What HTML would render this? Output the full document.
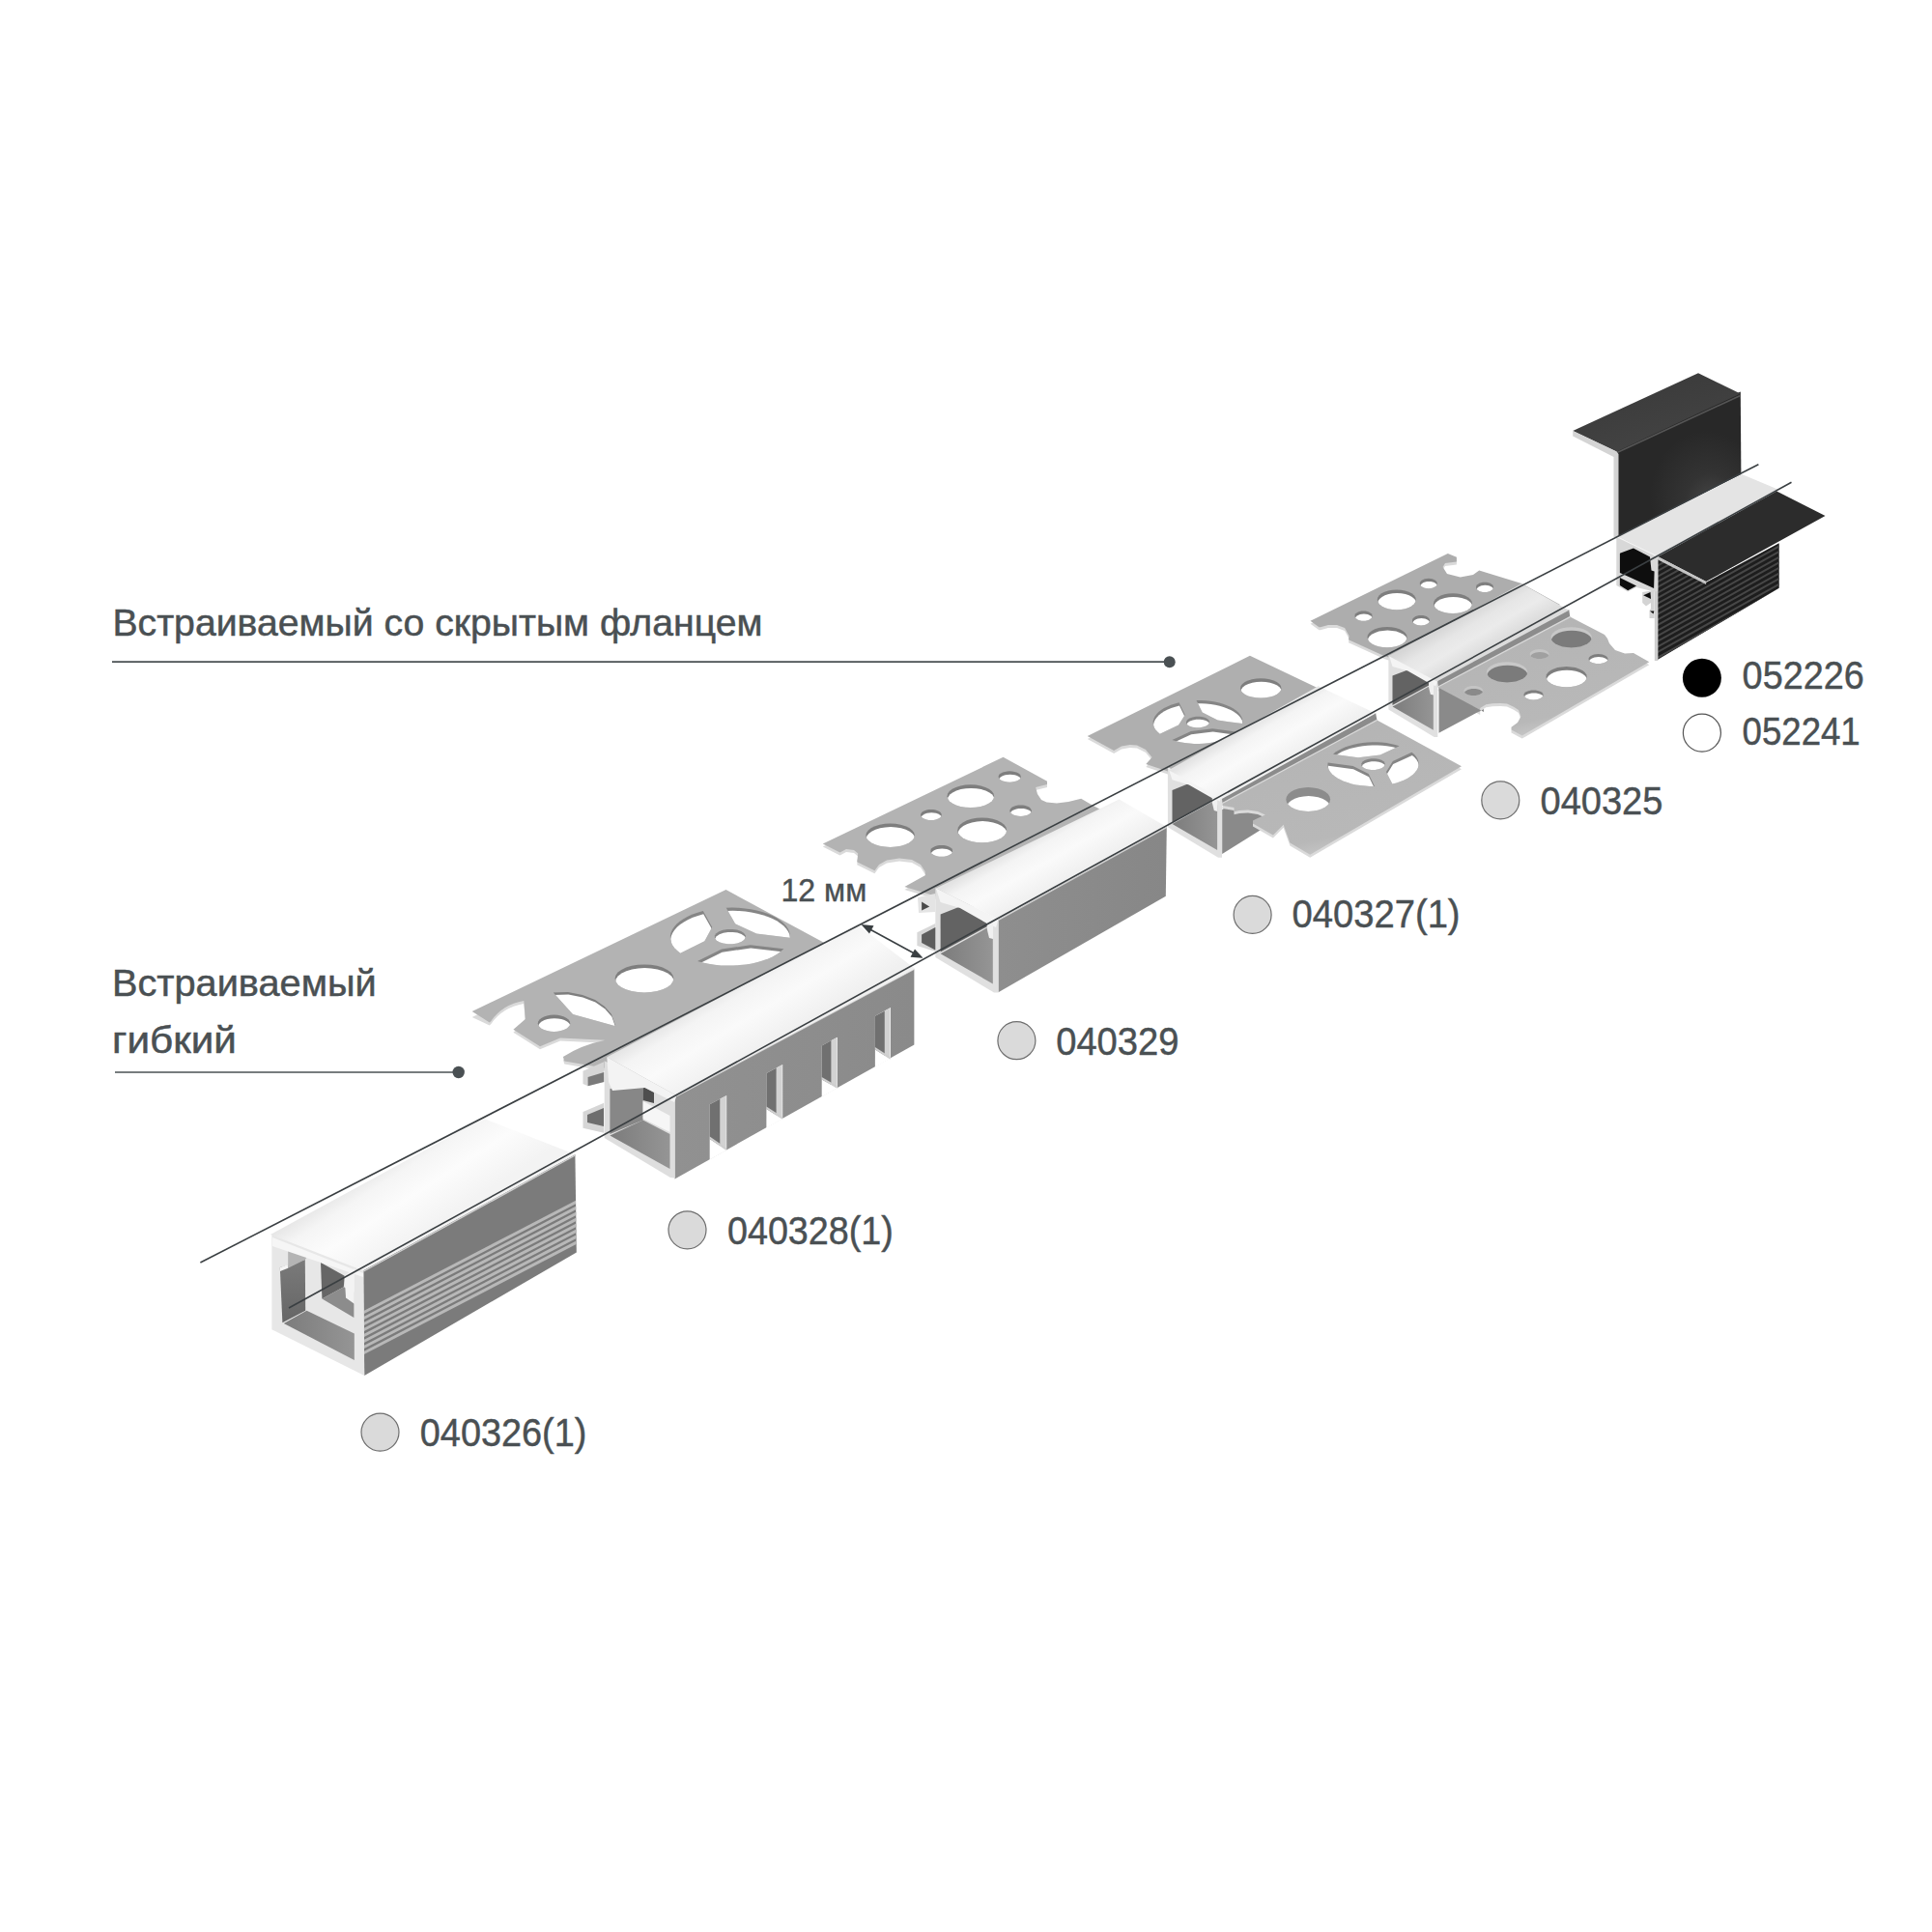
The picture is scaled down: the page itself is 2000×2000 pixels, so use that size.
<!DOCTYPE html>
<html><head><meta charset="utf-8"><style>
html,body{margin:0;padding:0;background:#fff;width:2000px;height:2000px;overflow:hidden}
svg{display:block}
text{font-family:"Liberation Sans",sans-serif;fill:#4a5053}
</style></head><body>
<svg width="2000" height="2000" viewBox="0 0 2000 2000">
<defs>
<radialGradient id="gF" cx="0.72" cy="0.72" r="0.45" fx="0.78" fy="0.8">
<stop offset="0" stop-color="#4a4a4a"/><stop offset="0.45" stop-color="#333333"/><stop offset="1" stop-color="#282828"/></radialGradient>
<linearGradient id="gFt" x1="0" y1="0" x2="0.6" y2="1">
<stop offset="0" stop-color="#383838"/><stop offset="1" stop-color="#444444"/></linearGradient>
<linearGradient id="gA" x1="0" y1="0.764" x2="0.305" y2="1.0">
<stop offset="0" stop-color="#e6e6e6"/><stop offset="0.22" stop-color="#f5f5f5"/><stop offset="0.55" stop-color="#fcfcfc"/><stop offset="1" stop-color="#f3f3f3"/></linearGradient>
<linearGradient id="gD" x1="0" y1="0.77" x2="0.25" y2="1.0">
<stop offset="0" stop-color="#e3e3e3"/><stop offset="0.22" stop-color="#f4f4f4"/><stop offset="0.55" stop-color="#fafafa"/><stop offset="1" stop-color="#f0f0f0"/></linearGradient>
<linearGradient id="gIn" x1="0" y1="0" x2="1" y2="0">
<stop offset="0" stop-color="#7c7c7c"/><stop offset="1" stop-color="#959595"/></linearGradient>
<linearGradient id="gSide" x1="0" y1="0" x2="1" y2="0">
<stop offset="0" stop-color="#8e8e8e"/><stop offset="1" stop-color="#878787"/></linearGradient>
<linearGradient id="gSideB" x1="0" y1="0" x2="1" y2="0">
<stop offset="0" stop-color="#919191"/><stop offset="1" stop-color="#8a8a8a"/></linearGradient>
<linearGradient id="gAl" x1="0" y1="0" x2="0" y2="1"><stop offset="0" stop-color="#7a7a7a"/><stop offset="1" stop-color="#666"/></linearGradient>
<linearGradient id="gDE" x1="0" y1="0.77" x2="0.25" y2="1.0"><stop offset="0" stop-color="#d6d6d6"/><stop offset="0.3" stop-color="#e6e6e6"/><stop offset="0.6" stop-color="#ebebeb"/><stop offset="1" stop-color="#dcdcdc"/></linearGradient>
<linearGradient id="gFP" x1="0.3" y1="0" x2="0.7" y2="1"><stop offset="0" stop-color="#b4b4b4"/><stop offset="0.8" stop-color="#b8b8b8"/><stop offset="0.93" stop-color="#c8c8c8"/><stop offset="1" stop-color="#dadada"/></linearGradient>
<clipPath id="h1"><polygon points="1714.9,578.3 1766.1,603.0 1841.7,562.3 1841.7,608.8 1714.9,683.4"/></clipPath><clipPath id="h2"><polygon points="1465.8,620.8 1465.3,623.1 1463.8,625.3 1461.4,627.3 1458.3,628.9 1454.5,630.2 1450.3,630.9 1445.8,631.2 1441.3,630.9 1437.1,630.2 1433.3,628.9 1430.2,627.3 1427.8,625.3 1426.3,623.1 1425.8,620.8 1426.3,618.5 1427.8,616.3 1430.2,614.3 1433.3,612.7 1437.1,611.4 1441.3,610.7 1445.8,610.4 1450.3,610.7 1454.5,611.4 1458.3,612.7 1461.4,614.3 1463.8,616.3 1465.3,618.5"/></clipPath><clipPath id="h3"><polygon points="1524.0,624.7 1523.5,627.0 1522.0,629.2 1519.6,631.2 1516.5,632.8 1512.7,634.1 1508.5,634.8 1504.0,635.1 1499.5,634.8 1495.3,634.1 1491.5,632.8 1488.4,631.2 1486.0,629.2 1484.5,627.0 1484.0,624.7 1484.5,622.4 1486.0,620.2 1488.4,618.2 1491.5,616.6 1495.3,615.3 1499.5,614.6 1504.0,614.3 1508.5,614.6 1512.7,615.3 1516.5,616.6 1519.6,618.2 1522.0,620.2 1523.5,622.4"/></clipPath><clipPath id="h4"><polygon points="1456.5,659.6 1456.0,662.0 1454.5,664.2 1452.0,666.2 1448.8,667.9 1444.9,669.2 1440.6,669.9 1436.0,670.2 1431.4,669.9 1427.1,669.2 1423.2,667.9 1420.0,666.2 1417.5,664.2 1416.0,662.0 1415.5,659.6 1416.0,657.2 1417.5,655.0 1420.0,653.0 1423.2,651.3 1427.1,650.0 1431.4,649.3 1436.0,649.0 1440.6,649.3 1444.9,650.0 1448.8,651.3 1452.0,653.0 1454.5,655.0 1456.0,657.2"/></clipPath><clipPath id="h5"><polygon points="1420.5,637.6 1420.3,638.8 1419.6,639.9 1418.5,640.8 1417.1,641.7 1415.4,642.3 1413.5,642.7 1411.5,642.8 1409.5,642.7 1407.6,642.3 1405.9,641.7 1404.5,640.8 1403.4,639.9 1402.7,638.8 1402.5,637.6 1402.7,636.4 1403.4,635.3 1404.5,634.4 1405.9,633.5 1407.6,632.9 1409.5,632.5 1411.5,632.4 1413.5,632.5 1415.4,632.9 1417.1,633.5 1418.5,634.4 1419.6,635.3 1420.3,636.4"/></clipPath><clipPath id="h6"><polygon points="1487.8,604.0 1487.6,605.2 1486.9,606.3 1485.8,607.2 1484.4,608.1 1482.7,608.7 1480.8,609.1 1478.8,609.2 1476.8,609.1 1474.9,608.7 1473.2,608.1 1471.8,607.2 1470.7,606.3 1470.0,605.2 1469.8,604.0 1470.0,602.8 1470.7,601.7 1471.8,600.8 1473.2,599.9 1474.9,599.3 1476.8,598.9 1478.8,598.8 1480.8,598.9 1482.7,599.3 1484.4,599.9 1485.8,600.8 1486.9,601.7 1487.6,602.8"/></clipPath><clipPath id="h7"><polygon points="1546.0,607.9 1545.8,609.1 1545.1,610.2 1544.0,611.1 1542.6,612.0 1540.9,612.6 1539.0,613.0 1537.0,613.1 1535.0,613.0 1533.1,612.6 1531.4,612.0 1530.0,611.1 1528.9,610.2 1528.2,609.1 1528.0,607.9 1528.2,606.7 1528.9,605.6 1530.0,604.7 1531.4,603.8 1533.1,603.2 1535.0,602.8 1537.0,602.7 1539.0,602.8 1540.9,603.2 1542.6,603.8 1544.0,604.7 1545.1,605.6 1545.8,606.7"/></clipPath><clipPath id="h8"><polygon points="1480.0,642.2 1479.8,643.4 1479.1,644.5 1478.0,645.4 1476.6,646.3 1474.9,646.9 1473.0,647.3 1471.0,647.4 1469.0,647.3 1467.1,646.9 1465.4,646.3 1464.0,645.4 1462.9,644.5 1462.2,643.4 1462.0,642.2 1462.2,641.0 1462.9,639.9 1464.0,639.0 1465.4,638.1 1467.1,637.5 1469.0,637.1 1471.0,637.0 1473.0,637.1 1474.9,637.5 1476.6,638.1 1478.0,639.0 1479.1,639.9 1479.8,641.0"/></clipPath><clipPath id="h9"><polygon points="1647.7,659.8 1647.2,662.2 1645.6,664.4 1643.1,666.4 1639.8,668.1 1635.8,669.4 1631.3,670.1 1626.6,670.4 1621.9,670.1 1617.4,669.4 1613.4,668.1 1610.1,666.4 1607.6,664.4 1606.0,662.2 1605.5,659.8 1606.0,657.4 1607.6,655.2 1610.1,653.2 1613.4,651.5 1617.4,650.2 1621.9,649.5 1626.6,649.2 1631.3,649.5 1635.8,650.2 1639.8,651.5 1643.1,653.2 1645.6,655.2 1647.2,657.4"/></clipPath><clipPath id="h10"><polygon points="1581.2,695.8 1580.7,698.2 1579.1,700.4 1576.6,702.4 1573.3,704.1 1569.3,705.4 1564.8,706.1 1560.1,706.4 1555.4,706.1 1550.9,705.4 1546.9,704.1 1543.6,702.4 1541.1,700.4 1539.5,698.2 1539.0,695.8 1539.5,693.4 1541.1,691.2 1543.6,689.2 1546.9,687.5 1550.9,686.2 1555.4,685.5 1560.1,685.2 1564.8,685.5 1569.3,686.2 1573.3,687.5 1576.6,689.2 1579.1,691.2 1580.7,693.4"/></clipPath><clipPath id="h11"><polygon points="1642.7,700.7 1642.2,703.1 1640.6,705.3 1638.1,707.3 1634.8,709.0 1630.8,710.3 1626.3,711.0 1621.6,711.3 1616.9,711.0 1612.4,710.3 1608.4,709.0 1605.1,707.3 1602.6,705.3 1601.0,703.1 1600.5,700.7 1601.0,698.3 1602.6,696.1 1605.1,694.1 1608.4,692.4 1612.4,691.1 1616.9,690.4 1621.6,690.1 1626.3,690.4 1630.8,691.1 1634.8,692.4 1638.1,694.1 1640.6,696.1 1642.2,698.3"/></clipPath><clipPath id="h12"><polygon points="1535.3,715.0 1535.0,716.1 1534.3,717.2 1533.1,718.1 1531.5,718.9 1529.6,719.5 1527.5,719.9 1525.3,720.0 1523.1,719.9 1521.0,719.5 1519.1,718.9 1517.5,718.1 1516.3,717.2 1515.6,716.1 1515.3,715.0 1515.6,713.9 1516.3,712.8 1517.5,711.9 1519.1,711.1 1521.0,710.5 1523.1,710.1 1525.3,710.0 1527.5,710.1 1529.6,710.5 1531.5,711.1 1533.1,711.9 1534.3,712.8 1535.0,713.9"/></clipPath><clipPath id="h13"><polygon points="1603.7,677.1 1603.4,678.2 1602.7,679.3 1601.5,680.2 1599.9,681.0 1598.0,681.6 1595.9,682.0 1593.7,682.1 1591.5,682.0 1589.4,681.6 1587.5,681.0 1585.9,680.2 1584.7,679.3 1584.0,678.2 1583.7,677.1 1584.0,676.0 1584.7,674.9 1585.9,674.0 1587.5,673.2 1589.4,672.6 1591.5,672.2 1593.7,672.1 1595.9,672.2 1598.0,672.6 1599.9,673.2 1601.5,674.0 1602.7,674.9 1603.4,676.0"/></clipPath><clipPath id="h14"><polygon points="1664.5,682.1 1664.2,683.2 1663.5,684.3 1662.3,685.2 1660.7,686.0 1658.8,686.6 1656.7,687.0 1654.5,687.1 1652.3,687.0 1650.2,686.6 1648.3,686.0 1646.7,685.2 1645.5,684.3 1644.8,683.2 1644.5,682.1 1644.8,681.0 1645.5,679.9 1646.7,679.0 1648.3,678.2 1650.2,677.6 1652.3,677.2 1654.5,677.1 1656.7,677.2 1658.8,677.6 1660.7,678.2 1662.3,679.0 1663.5,679.9 1664.2,681.0"/></clipPath><clipPath id="h15"><polygon points="1597.5,719.4 1597.2,720.5 1596.5,721.6 1595.3,722.5 1593.7,723.3 1591.8,723.9 1589.7,724.3 1587.5,724.4 1585.3,724.3 1583.2,723.9 1581.3,723.3 1579.7,722.5 1578.5,721.6 1577.8,720.5 1577.5,719.4 1577.8,718.3 1578.5,717.2 1579.7,716.3 1581.3,715.5 1583.2,714.9 1585.3,714.5 1587.5,714.4 1589.7,714.5 1591.8,714.9 1593.7,715.5 1595.3,716.3 1596.5,717.2 1597.2,718.3"/></clipPath><clipPath id="h16"><polygon points="1326.4,712.4 1325.9,714.7 1324.3,716.8 1321.8,718.8 1318.4,720.4 1314.4,721.6 1309.9,722.3 1305.2,722.6 1300.5,722.3 1296.0,721.6 1292.0,720.4 1288.6,718.8 1286.1,716.8 1284.5,714.7 1284.0,712.4 1284.5,710.1 1286.1,708.0 1288.6,706.0 1292.0,704.4 1296.0,703.2 1300.5,702.5 1305.2,702.2 1309.9,702.5 1314.4,703.2 1318.4,704.4 1321.8,706.0 1324.3,708.0 1325.9,710.1"/></clipPath><clipPath id="h17"><polygon points="1238.5,725.1 1243.4,725.1 1248.3,725.3 1253.0,725.8 1257.7,726.6 1262.1,727.6 1266.2,728.8 1270.1,730.2 1273.7,731.8 1276.8,733.6 1279.6,735.5 1281.9,737.6 1283.8,739.7 1285.1,742.0 1286.0,744.3 1286.3,746.7 1286.1,749.1 1260.5,745.6 1244.7,737.6"/></clipPath><clipPath id="h18"><polygon points="1280.8,757.7 1278.3,759.8 1275.3,761.7 1272.0,763.4 1268.2,765.0 1264.2,766.4 1259.9,767.6 1255.4,768.5 1250.7,769.2 1245.9,769.7 1241.0,769.9 1236.1,769.9 1231.3,769.6 1226.5,769.1 1221.9,768.3 1217.5,767.3 1213.4,766.1 1232.8,757.0 1255.2,754.3"/></clipPath><clipPath id="h19"><polygon points="1200.7,759.7 1198.3,757.6 1196.4,755.5 1195.0,753.2 1194.1,750.9 1193.7,748.5 1193.8,746.2 1194.5,743.8 1195.6,741.5 1197.3,739.2 1199.4,737.1 1202.0,735.0 1205.0,733.1 1208.4,731.4 1212.1,729.8 1216.2,728.5 1220.5,727.3 1226.7,739.9 1220.1,750.6"/></clipPath><clipPath id="h20"><polygon points="1248.5,743.3 1250.7,744.7 1251.9,746.4 1251.9,748.3 1250.8,750.0 1248.6,751.5 1245.5,752.6 1242.0,753.2 1238.2,753.3 1234.6,752.8 1231.5,751.7 1229.3,750.3 1228.1,748.6 1228.1,746.7 1229.2,745.0 1231.4,743.5 1234.5,742.4 1238.0,741.8 1241.8,741.7 1245.4,742.2"/></clipPath><clipPath id="h21"><polygon points="1377.1,827.5 1376.5,830.3 1374.8,832.9 1372.1,835.2 1368.5,837.2 1364.1,838.7 1359.3,839.6 1354.2,839.9 1349.1,839.6 1344.3,838.7 1339.9,837.2 1336.3,835.2 1333.6,832.9 1331.9,830.3 1331.3,827.5 1331.9,824.7 1333.6,822.1 1336.3,819.8 1339.9,817.8 1344.3,816.3 1349.1,815.4 1354.2,815.1 1359.3,815.4 1364.1,816.3 1368.5,817.8 1372.1,819.8 1374.8,822.1 1376.5,824.7"/></clipPath><clipPath id="h22"><polygon points="1423.0,813.9 1418.0,813.9 1413.1,813.6 1408.2,813.1 1403.5,812.4 1399.1,811.4 1394.8,810.1 1390.9,808.7 1387.3,807.1 1384.1,805.3 1381.3,803.3 1378.9,801.2 1377.0,799.0 1375.6,796.7 1374.8,794.3 1374.4,791.9 1374.6,789.5 1400.6,793.0 1416.7,801.1"/></clipPath><clipPath id="h23"><polygon points="1380.0,780.7 1382.6,778.6 1385.6,776.7 1389.0,774.9 1392.8,773.3 1396.9,771.9 1401.3,770.7 1405.9,769.7 1410.6,769.0 1415.5,768.5 1420.5,768.3 1425.5,768.3 1430.4,768.6 1435.2,769.1 1439.9,769.9 1444.4,770.9 1448.6,772.2 1428.8,781.4 1406.0,784.2"/></clipPath><clipPath id="h24"><polygon points="1461.5,778.7 1463.9,780.8 1465.8,783.0 1467.2,785.3 1468.2,787.7 1468.6,790.1 1468.4,792.5 1467.8,794.9 1466.6,797.2 1464.9,799.5 1462.8,801.7 1460.1,803.8 1457.1,805.7 1453.6,807.5 1449.8,809.1 1445.7,810.4 1441.3,811.6 1435.0,798.9 1441.8,787.9"/></clipPath><clipPath id="h25"><polygon points="1430.1,786.8 1432.4,788.3 1433.6,790.0 1433.6,791.9 1432.4,793.7 1430.2,795.2 1427.1,796.3 1423.5,796.9 1419.7,797.0 1416.0,796.5 1412.9,795.4 1410.6,793.9 1409.4,792.2 1409.4,790.3 1410.6,788.5 1412.8,787.0 1415.9,785.9 1419.5,785.3 1423.3,785.2 1427.0,785.7"/></clipPath><clipPath id="h26"><polygon points="946.8,864.7 946.2,867.4 944.3,870.0 941.3,872.3 937.3,874.2 932.5,875.7 927.2,876.6 921.6,876.9 916.0,876.6 910.7,875.7 905.9,874.2 901.9,872.3 898.9,870.0 897.0,867.4 896.4,864.7 897.0,862.0 898.9,859.4 901.9,857.1 905.9,855.2 910.7,853.7 916.0,852.8 921.6,852.5 927.2,852.8 932.5,853.7 937.3,855.2 941.3,857.1 944.3,859.4 946.2,862.0"/></clipPath><clipPath id="h27"><polygon points="1029.1,824.2 1028.5,826.8 1026.7,829.4 1023.8,831.6 1020.0,833.5 1015.3,834.9 1010.2,835.8 1004.8,836.1 999.4,835.8 994.3,834.9 989.6,833.5 985.8,831.6 982.9,829.4 981.1,826.8 980.5,824.2 981.1,821.6 982.9,819.0 985.8,816.8 989.6,814.9 994.3,813.5 999.4,812.6 1004.8,812.3 1010.2,812.6 1015.3,813.5 1020.0,814.9 1023.8,816.8 1026.7,819.0 1028.5,821.6"/></clipPath><clipPath id="h28"><polygon points="1042.1,859.4 1041.5,862.3 1039.6,865.0 1036.6,867.4 1032.5,869.5 1027.7,871.0 1022.4,872.0 1016.7,872.3 1011.0,872.0 1005.7,871.0 1000.9,869.5 996.8,867.4 993.8,865.0 991.9,862.3 991.3,859.4 991.9,856.5 993.8,853.8 996.8,851.4 1000.9,849.3 1005.7,847.8 1011.0,846.8 1016.7,846.5 1022.4,846.8 1027.7,847.8 1032.5,849.3 1036.6,851.4 1039.6,853.8 1041.5,856.5"/></clipPath><clipPath id="h29"><polygon points="974.7,843.5 974.4,844.7 973.6,845.9 972.3,846.9 970.6,847.8 968.6,848.5 966.3,848.9 963.9,849.0 961.5,848.9 959.2,848.5 957.2,847.8 955.5,846.9 954.2,845.9 953.4,844.7 953.1,843.5 953.4,842.3 954.2,841.1 955.5,840.1 957.2,839.2 959.2,838.5 961.5,838.1 963.9,838.0 966.3,838.1 968.6,838.5 970.6,839.2 972.3,840.1 973.6,841.1 974.4,842.3"/></clipPath><clipPath id="h30"><polygon points="986.1,880.9 985.8,882.2 985.0,883.5 983.6,884.6 981.8,885.5 979.6,886.2 977.2,886.7 974.7,886.8 972.2,886.7 969.8,886.2 967.6,885.5 965.8,884.6 964.4,883.5 963.6,882.2 963.3,880.9 963.6,879.6 964.4,878.3 965.8,877.2 967.6,876.3 969.8,875.6 972.2,875.1 974.7,875.0 977.2,875.1 979.6,875.6 981.8,876.3 983.6,877.2 985.0,878.3 985.8,879.6"/></clipPath><clipPath id="h31"><polygon points="1056.8,804.0 1056.5,805.3 1055.7,806.5 1054.3,807.6 1052.4,808.5 1050.2,809.1 1047.8,809.6 1045.2,809.7 1042.6,809.6 1040.2,809.1 1038.0,808.5 1036.1,807.6 1034.7,806.5 1033.9,805.3 1033.6,804.0 1033.9,802.7 1034.7,801.5 1036.1,800.4 1038.0,799.5 1040.2,798.9 1042.6,798.4 1045.2,798.3 1047.8,798.4 1050.2,798.9 1052.4,799.5 1054.3,800.4 1055.7,801.5 1056.5,802.7"/></clipPath><clipPath id="h32"><polygon points="1067.8,839.2 1067.5,840.5 1066.7,841.7 1065.4,842.8 1063.6,843.7 1061.5,844.3 1059.1,844.8 1056.6,844.9 1054.1,844.8 1051.7,844.3 1049.6,843.7 1047.8,842.8 1046.5,841.7 1045.7,840.5 1045.4,839.2 1045.7,837.9 1046.5,836.7 1047.8,835.6 1049.6,834.7 1051.7,834.1 1054.1,833.6 1056.6,833.5 1059.1,833.6 1061.5,834.1 1063.6,834.7 1065.4,835.6 1066.7,836.7 1067.5,837.9"/></clipPath><clipPath id="h33"><polygon points="590.2,1059.3 589.8,1061.2 588.5,1063.1 586.6,1064.7 583.9,1066.1 580.7,1067.1 577.2,1067.8 573.5,1068.0 569.8,1067.8 566.3,1067.1 563.1,1066.1 560.4,1064.7 558.5,1063.1 557.2,1061.2 556.8,1059.3 557.2,1057.4 558.5,1055.5 560.4,1053.9 563.1,1052.5 566.3,1051.5 569.8,1050.8 573.5,1050.6 577.2,1050.8 580.7,1051.5 583.9,1052.5 586.6,1053.9 588.5,1055.5 589.8,1057.4"/></clipPath><clipPath id="h34"><polygon points="572.8,1027.4 588.0,1027.0 603.0,1030.0 616.0,1035.0 626.0,1042.0 633.0,1050.0 637.2,1062.2 593.0,1049.9"/></clipPath><clipPath id="h35"><polygon points="697.4,1012.9 696.6,1016.1 694.4,1019.2 690.8,1021.9 686.0,1024.2 680.2,1026.0 673.8,1027.0 667.0,1027.4 660.2,1027.0 653.8,1026.0 648.0,1024.2 643.2,1021.9 639.6,1019.2 637.4,1016.1 636.6,1012.9 637.4,1009.7 639.6,1006.6 643.2,1003.9 648.0,1001.6 653.8,999.8 660.2,998.8 667.0,998.4 673.8,998.8 680.2,999.8 686.0,1001.6 690.8,1003.9 694.4,1006.6 696.6,1009.7"/></clipPath><clipPath id="h36"><polygon points="751.7,939.7 758.2,939.6 764.7,939.8 771.2,940.4 777.4,941.3 783.4,942.5 789.1,944.0 794.4,945.8 799.3,947.8 803.7,950.1 807.6,952.7 810.9,955.4 813.6,958.2 815.6,961.2 817.0,964.3 817.7,967.5 817.7,970.7 783.1,966.6 761.1,956.3"/></clipPath><clipPath id="h37"><polygon points="811.4,982.3 808.2,985.1 804.4,987.8 800.1,990.2 795.3,992.4 790.0,994.3 784.4,996.0 778.4,997.4 772.2,998.4 765.8,999.1 759.3,999.6 752.7,999.6 746.2,999.4 739.8,998.8 733.6,997.8 727.6,996.6 722.0,995.1 747.1,982.5 776.8,978.3"/></clipPath><clipPath id="h38"><polygon points="704.3,986.8 701.0,984.1 698.2,981.2 696.1,978.2 694.7,975.2 694.0,972.0 693.9,968.8 694.5,965.7 695.9,962.6 697.9,959.5 700.5,956.6 703.7,953.8 707.6,951.2 711.9,948.8 716.8,946.6 722.1,944.7 727.8,943.1 737.2,959.7 729.4,974.2"/></clipPath><clipPath id="h39"><polygon points="767.1,963.9 770.1,965.9 771.7,968.2 771.7,970.6 770.2,973.0 767.3,975.0 763.2,976.5 758.4,977.3 753.4,977.3 748.6,976.6 744.5,975.3 741.5,973.3 739.9,971.0 739.9,968.6 741.4,966.2 744.3,964.2 748.4,962.7 753.2,961.9 758.2,961.9 763.0,962.6"/></clipPath><clipPath id="h40"><polygon points="375.8,1315.2 595.4,1194.9 596.8,1296.4 377.2,1423.9"/></clipPath>
</defs>
<rect width="2000" height="2000" fill="#ffffff"/>
<polygon points="1673.5,465.0 1801.8,405.5 1802.4,491.0 1673.5,556.0" fill="url(#gF)" />
<polygon points="1628.2,446.0 1758.0,386.2 1801.6,407.5 1673.5,467.5" fill="url(#gFt)" />
<line x1="1674.0" y1="468.5" x2="1801.6" y2="409.5" stroke="#555555" stroke-width="1.6" />
<polygon points="1628.2,446.0 1673.5,467.5 1675.5,470.0 1675.5,556.0 1670.5,556.0 1670.5,473.0 1628.2,451.5" fill="#d4d4d4" />
<polygon points="1675.0,556.0 1803.3,491.0 1840.9,506.7 1717.9,576.7" fill="#e4e4e4" />
<polygon points="1675.0,556.0 1717.9,576.7 1716.0,583.0 1677.0,566.0" fill="#f2f2f2" />
<polygon points="1714.9,578.3 1766.1,603.0 1841.7,562.3 1841.7,608.8 1714.9,683.4" fill="#1d1d1d" />
<g clip-path="url(#h1)"><line x1="1714" y1="581.0" x2="1842" y2="509.3" stroke="#474747" stroke-width="2"/><line x1="1714" y1="586.6" x2="1842" y2="514.9" stroke="#474747" stroke-width="2"/><line x1="1714" y1="592.2" x2="1842" y2="520.5" stroke="#474747" stroke-width="2"/><line x1="1714" y1="597.8" x2="1842" y2="526.1" stroke="#474747" stroke-width="2"/><line x1="1714" y1="603.4" x2="1842" y2="531.7" stroke="#474747" stroke-width="2"/><line x1="1714" y1="609.0" x2="1842" y2="537.3" stroke="#474747" stroke-width="2"/><line x1="1714" y1="614.6" x2="1842" y2="542.9" stroke="#474747" stroke-width="2"/><line x1="1714" y1="620.2" x2="1842" y2="548.5" stroke="#474747" stroke-width="2"/><line x1="1714" y1="625.8" x2="1842" y2="554.1" stroke="#474747" stroke-width="2"/><line x1="1714" y1="631.4" x2="1842" y2="559.7" stroke="#474747" stroke-width="2"/><line x1="1714" y1="637.0" x2="1842" y2="565.3" stroke="#474747" stroke-width="2"/><line x1="1714" y1="642.6" x2="1842" y2="570.9" stroke="#474747" stroke-width="2"/><line x1="1714" y1="648.2" x2="1842" y2="576.5" stroke="#474747" stroke-width="2"/><line x1="1714" y1="653.8" x2="1842" y2="582.1" stroke="#474747" stroke-width="2"/><line x1="1714" y1="659.4" x2="1842" y2="587.7" stroke="#474747" stroke-width="2"/><line x1="1714" y1="665.0" x2="1842" y2="593.3" stroke="#474747" stroke-width="2"/><line x1="1714" y1="670.6" x2="1842" y2="598.9" stroke="#474747" stroke-width="2"/><line x1="1714" y1="676.2" x2="1842" y2="604.5" stroke="#474747" stroke-width="2"/><line x1="1714" y1="681.8" x2="1842" y2="610.1" stroke="#474747" stroke-width="2"/><line x1="1714" y1="687.4" x2="1842" y2="615.7" stroke="#474747" stroke-width="2"/></g>
<polygon points="1712.8,578.0 1716.4,578.0 1716.4,684.0 1712.8,684.0" fill="#cfcfcf" />
<polygon points="1716.4,576.2 1839.2,508.4 1889.5,534.0 1766.1,602.1" fill="#2c2c2c" />
<polygon points="1716.4,576.2 1766.1,602.1 1766.1,605.0 1716.4,579.5" fill="#c4c4c4" />
<polygon points="1673.3,556.0 1716.2,577.0 1716.2,612.0 1712.6,612.5 1694.0,608.0 1685.0,612.5 1673.3,606.0" fill="#d8d8d8" />
<polygon points="1676.9,572.8 1690.9,567.6 1708.0,576.4 1709.5,590.4 1712.6,591.4 1712.1,609.0 1682.6,595.5 1676.9,593.0" fill="#0e0e0e" />
<polygon points="1676.9,598.1 1694.0,606.4 1685.2,611.2 1676.9,605.9" fill="#0e0e0e" />
<polygon points="1700.2,613.0 1712.6,611.0 1712.6,640.0 1707.5,640.0 1707.5,632.0 1709.0,630.0 1709.0,624.0 1704.0,627.6 1700.2,624.0" fill="#d4d4d4" />
<polygon points="1701.2,616.3 1708.5,613.1 1709.0,619.9" fill="#0e0e0e" />
<polygon points="1708.0,632.5 1712.4,632.5 1711.5,635.5" fill="#111" />
<polygon points="1356.5,645.8 1498.8,575.9 1507.9,579.8 1507.9,584.4 1496.0,586.0 1493.6,590.0 1498.0,597.0 1511.7,600.5 1525.0,598.0 1531.2,593.4 1575.2,607.0 1615.0,629.0 1500.0,703.0 1432.8,682.0 1396.0,665.2 1396.6,661.3 1392.0,653.0 1384.0,650.0 1375.0,650.0 1366.8,652.3 1365.5,652.3" fill="#dadada" />
<polygon points="1356.5,642.8 1498.8,572.9 1507.9,576.8 1507.9,581.4 1496.0,583.0 1493.6,587.0 1498.0,594.0 1511.7,597.5 1525.0,595.0 1531.2,590.4 1575.2,604.0 1615.0,626.0 1500.0,700.0 1432.8,679.0 1396.0,662.2 1396.6,658.3 1392.0,650.0 1384.0,647.0 1375.0,647.0 1366.8,649.3 1365.5,649.3" fill="#adadad" />
<polygon points="1465.8,620.8 1465.3,623.1 1463.8,625.3 1461.4,627.3 1458.3,628.9 1454.5,630.2 1450.3,630.9 1445.8,631.2 1441.3,630.9 1437.1,630.2 1433.3,628.9 1430.2,627.3 1427.8,625.3 1426.3,623.1 1425.8,620.8 1426.3,618.5 1427.8,616.3 1430.2,614.3 1433.3,612.7 1437.1,611.4 1441.3,610.7 1445.8,610.4 1450.3,610.7 1454.5,611.4 1458.3,612.7 1461.4,614.3 1463.8,616.3 1465.3,618.5" fill="#7e7e7e" />
<polygon points="1466.2,624.4 1465.7,626.7 1464.2,628.9 1461.8,630.9 1458.7,632.5 1454.9,633.8 1450.7,634.5 1446.2,634.8 1441.7,634.5 1437.5,633.8 1433.7,632.5 1430.6,630.9 1428.2,628.9 1426.7,626.7 1426.2,624.4 1426.7,622.1 1428.2,619.9 1430.6,617.9 1433.7,616.3 1437.5,615.0 1441.7,614.3 1446.2,614.0 1450.7,614.3 1454.9,615.0 1458.7,616.3 1461.8,617.9 1464.2,619.9 1465.7,622.1" fill="#ffffff" clip-path="url(#h2)"/>
<polygon points="1524.0,624.7 1523.5,627.0 1522.0,629.2 1519.6,631.2 1516.5,632.8 1512.7,634.1 1508.5,634.8 1504.0,635.1 1499.5,634.8 1495.3,634.1 1491.5,632.8 1488.4,631.2 1486.0,629.2 1484.5,627.0 1484.0,624.7 1484.5,622.4 1486.0,620.2 1488.4,618.2 1491.5,616.6 1495.3,615.3 1499.5,614.6 1504.0,614.3 1508.5,614.6 1512.7,615.3 1516.5,616.6 1519.6,618.2 1522.0,620.2 1523.5,622.4" fill="#7e7e7e" />
<polygon points="1524.4,628.3 1523.9,630.6 1522.4,632.8 1520.0,634.8 1516.9,636.4 1513.1,637.7 1508.9,638.4 1504.4,638.7 1499.9,638.4 1495.7,637.7 1491.9,636.4 1488.8,634.8 1486.4,632.8 1484.9,630.6 1484.4,628.3 1484.9,626.0 1486.4,623.8 1488.8,621.8 1491.9,620.2 1495.7,618.9 1499.9,618.2 1504.4,617.9 1508.9,618.2 1513.1,618.9 1516.9,620.2 1520.0,621.8 1522.4,623.8 1523.9,626.0" fill="#ffffff" clip-path="url(#h3)"/>
<polygon points="1456.5,659.6 1456.0,662.0 1454.5,664.2 1452.0,666.2 1448.8,667.9 1444.9,669.2 1440.6,669.9 1436.0,670.2 1431.4,669.9 1427.1,669.2 1423.2,667.9 1420.0,666.2 1417.5,664.2 1416.0,662.0 1415.5,659.6 1416.0,657.2 1417.5,655.0 1420.0,653.0 1423.2,651.3 1427.1,650.0 1431.4,649.3 1436.0,649.0 1440.6,649.3 1444.9,650.0 1448.8,651.3 1452.0,653.0 1454.5,655.0 1456.0,657.2" fill="#7e7e7e" />
<polygon points="1456.9,663.2 1456.4,665.6 1454.9,667.8 1452.4,669.8 1449.2,671.5 1445.3,672.8 1441.0,673.5 1436.4,673.8 1431.8,673.5 1427.5,672.8 1423.6,671.5 1420.4,669.8 1417.9,667.8 1416.4,665.6 1415.9,663.2 1416.4,660.8 1417.9,658.6 1420.4,656.6 1423.6,654.9 1427.5,653.6 1431.8,652.9 1436.4,652.6 1441.0,652.9 1445.3,653.6 1449.2,654.9 1452.4,656.6 1454.9,658.6 1456.4,660.8" fill="#ffffff" clip-path="url(#h4)"/>
<polygon points="1420.5,637.6 1420.3,638.8 1419.6,639.9 1418.5,640.8 1417.1,641.7 1415.4,642.3 1413.5,642.7 1411.5,642.8 1409.5,642.7 1407.6,642.3 1405.9,641.7 1404.5,640.8 1403.4,639.9 1402.7,638.8 1402.5,637.6 1402.7,636.4 1403.4,635.3 1404.5,634.4 1405.9,633.5 1407.6,632.9 1409.5,632.5 1411.5,632.4 1413.5,632.5 1415.4,632.9 1417.1,633.5 1418.5,634.4 1419.6,635.3 1420.3,636.4" fill="#7e7e7e" />
<polygon points="1420.9,640.7 1420.7,641.9 1420.0,643.0 1418.9,644.0 1417.5,644.8 1415.8,645.4 1413.9,645.8 1411.9,645.9 1409.9,645.8 1408.0,645.4 1406.3,644.8 1404.9,644.0 1403.8,643.0 1403.1,641.9 1402.9,640.7 1403.1,639.6 1403.8,638.5 1404.9,637.5 1406.3,636.7 1408.0,636.0 1409.9,635.7 1411.9,635.5 1413.9,635.7 1415.8,636.0 1417.5,636.7 1418.9,637.5 1420.0,638.5 1420.7,639.6" fill="#ffffff" clip-path="url(#h5)"/>
<polygon points="1487.8,604.0 1487.6,605.2 1486.9,606.3 1485.8,607.2 1484.4,608.1 1482.7,608.7 1480.8,609.1 1478.8,609.2 1476.8,609.1 1474.9,608.7 1473.2,608.1 1471.8,607.2 1470.7,606.3 1470.0,605.2 1469.8,604.0 1470.0,602.8 1470.7,601.7 1471.8,600.8 1473.2,599.9 1474.9,599.3 1476.8,598.9 1478.8,598.8 1480.8,598.9 1482.7,599.3 1484.4,599.9 1485.8,600.8 1486.9,601.7 1487.6,602.8" fill="#7e7e7e" />
<polygon points="1488.2,607.1 1488.0,608.3 1487.3,609.4 1486.2,610.4 1484.8,611.2 1483.1,611.8 1481.2,612.2 1479.2,612.3 1477.2,612.2 1475.3,611.8 1473.6,611.2 1472.2,610.4 1471.1,609.4 1470.4,608.3 1470.2,607.1 1470.4,606.0 1471.1,604.9 1472.2,603.9 1473.6,603.1 1475.3,602.4 1477.2,602.1 1479.2,601.9 1481.2,602.1 1483.1,602.4 1484.8,603.1 1486.2,603.9 1487.3,604.9 1488.0,606.0" fill="#ffffff" clip-path="url(#h6)"/>
<polygon points="1546.0,607.9 1545.8,609.1 1545.1,610.2 1544.0,611.1 1542.6,612.0 1540.9,612.6 1539.0,613.0 1537.0,613.1 1535.0,613.0 1533.1,612.6 1531.4,612.0 1530.0,611.1 1528.9,610.2 1528.2,609.1 1528.0,607.9 1528.2,606.7 1528.9,605.6 1530.0,604.7 1531.4,603.8 1533.1,603.2 1535.0,602.8 1537.0,602.7 1539.0,602.8 1540.9,603.2 1542.6,603.8 1544.0,604.7 1545.1,605.6 1545.8,606.7" fill="#7e7e7e" />
<polygon points="1546.4,611.0 1546.2,612.2 1545.5,613.3 1544.4,614.3 1543.0,615.1 1541.3,615.7 1539.4,616.1 1537.4,616.2 1535.4,616.1 1533.5,615.7 1531.8,615.1 1530.4,614.3 1529.3,613.3 1528.6,612.2 1528.4,611.0 1528.6,609.9 1529.3,608.8 1530.4,607.8 1531.8,607.0 1533.5,606.3 1535.4,606.0 1537.4,605.8 1539.4,606.0 1541.3,606.3 1543.0,607.0 1544.4,607.8 1545.5,608.8 1546.2,609.9" fill="#ffffff" clip-path="url(#h7)"/>
<polygon points="1480.0,642.2 1479.8,643.4 1479.1,644.5 1478.0,645.4 1476.6,646.3 1474.9,646.9 1473.0,647.3 1471.0,647.4 1469.0,647.3 1467.1,646.9 1465.4,646.3 1464.0,645.4 1462.9,644.5 1462.2,643.4 1462.0,642.2 1462.2,641.0 1462.9,639.9 1464.0,639.0 1465.4,638.1 1467.1,637.5 1469.0,637.1 1471.0,637.0 1473.0,637.1 1474.9,637.5 1476.6,638.1 1478.0,639.0 1479.1,639.9 1479.8,641.0" fill="#7e7e7e" />
<polygon points="1480.4,645.3 1480.2,646.5 1479.5,647.6 1478.4,648.6 1477.0,649.4 1475.3,650.0 1473.4,650.4 1471.4,650.5 1469.4,650.4 1467.5,650.0 1465.8,649.4 1464.4,648.6 1463.3,647.6 1462.6,646.5 1462.4,645.3 1462.6,644.2 1463.3,643.1 1464.4,642.1 1465.8,641.3 1467.5,640.6 1469.4,640.3 1471.4,640.1 1473.4,640.3 1475.3,640.6 1477.0,641.3 1478.4,642.1 1479.5,643.1 1480.2,644.2" fill="#ffffff" clip-path="url(#h8)"/>
<polygon points="1488.7,713.7 1625.3,641.6 1661.0,660.0 1664.0,664.0 1666.0,669.0 1672.0,676.0 1682.0,679.5 1691.0,679.0 1707.3,688.3 1575.7,764.6 1564.5,758.4 1564.5,755.7 1571.0,751.0 1574.4,744.7 1572.0,738.0 1567.0,734.8 1560.0,731.5 1553.3,731.0 1545.0,731.2 1538.4,732.3 1532.2,736.0 1532.2,740.0 1488.7,715.0" fill="#dadada" />
<polygon points="1488.7,710.7 1625.3,638.6 1661.0,657.0 1664.0,661.0 1666.0,666.0 1672.0,673.0 1682.0,676.5 1691.0,676.0 1707.3,685.3 1575.7,761.6 1564.5,755.4 1564.5,752.7 1571.0,748.0 1574.4,741.7 1572.0,735.0 1567.0,731.8 1560.0,728.5 1553.3,728.0 1545.0,728.2 1538.4,729.3 1532.2,733.0 1532.2,737.0 1488.7,712.0" fill="url(#gFP)" />
<polygon points="1647.7,659.8 1647.2,662.2 1645.6,664.4 1643.1,666.4 1639.8,668.1 1635.8,669.4 1631.3,670.1 1626.6,670.4 1621.9,670.1 1617.4,669.4 1613.4,668.1 1610.1,666.4 1607.6,664.4 1606.0,662.2 1605.5,659.8 1606.0,657.4 1607.6,655.2 1610.1,653.2 1613.4,651.5 1617.4,650.2 1621.9,649.5 1626.6,649.2 1631.3,649.5 1635.8,650.2 1639.8,651.5 1643.1,653.2 1645.6,655.2 1647.2,657.4" fill="#c8c8c8" />
<polygon points="1648.1,663.4 1647.6,665.8 1646.0,668.0 1643.5,670.0 1640.2,671.7 1636.2,673.0 1631.7,673.7 1627.0,674.0 1622.3,673.7 1617.8,673.0 1613.8,671.7 1610.5,670.0 1608.0,668.0 1606.4,665.8 1605.9,663.4 1606.4,661.0 1608.0,658.8 1610.5,656.8 1613.8,655.1 1617.8,653.8 1622.3,653.1 1627.0,652.8 1631.7,653.1 1636.2,653.8 1640.2,655.1 1643.5,656.8 1646.0,658.8 1647.6,661.0" fill="#7b7b7b" clip-path="url(#h9)"/>
<polygon points="1581.2,695.8 1580.7,698.2 1579.1,700.4 1576.6,702.4 1573.3,704.1 1569.3,705.4 1564.8,706.1 1560.1,706.4 1555.4,706.1 1550.9,705.4 1546.9,704.1 1543.6,702.4 1541.1,700.4 1539.5,698.2 1539.0,695.8 1539.5,693.4 1541.1,691.2 1543.6,689.2 1546.9,687.5 1550.9,686.2 1555.4,685.5 1560.1,685.2 1564.8,685.5 1569.3,686.2 1573.3,687.5 1576.6,689.2 1579.1,691.2 1580.7,693.4" fill="#c8c8c8" />
<polygon points="1581.6,699.4 1581.1,701.8 1579.5,704.0 1577.0,706.0 1573.7,707.7 1569.7,709.0 1565.2,709.7 1560.5,710.0 1555.8,709.7 1551.3,709.0 1547.3,707.7 1544.0,706.0 1541.5,704.0 1539.9,701.8 1539.4,699.4 1539.9,697.0 1541.5,694.8 1544.0,692.8 1547.3,691.1 1551.3,689.8 1555.8,689.1 1560.5,688.8 1565.2,689.1 1569.7,689.8 1573.7,691.1 1577.0,692.8 1579.5,694.8 1581.1,697.0" fill="#7b7b7b" clip-path="url(#h10)"/>
<polygon points="1642.7,700.7 1642.2,703.1 1640.6,705.3 1638.1,707.3 1634.8,709.0 1630.8,710.3 1626.3,711.0 1621.6,711.3 1616.9,711.0 1612.4,710.3 1608.4,709.0 1605.1,707.3 1602.6,705.3 1601.0,703.1 1600.5,700.7 1601.0,698.3 1602.6,696.1 1605.1,694.1 1608.4,692.4 1612.4,691.1 1616.9,690.4 1621.6,690.1 1626.3,690.4 1630.8,691.1 1634.8,692.4 1638.1,694.1 1640.6,696.1 1642.2,698.3" fill="#7e7e7e" />
<polygon points="1643.1,704.3 1642.6,706.7 1641.0,708.9 1638.5,710.9 1635.2,712.6 1631.2,713.9 1626.7,714.6 1622.0,714.9 1617.3,714.6 1612.8,713.9 1608.8,712.6 1605.5,710.9 1603.0,708.9 1601.4,706.7 1600.9,704.3 1601.4,701.9 1603.0,699.7 1605.5,697.7 1608.8,696.0 1612.8,694.7 1617.3,694.0 1622.0,693.7 1626.7,694.0 1631.2,694.7 1635.2,696.0 1638.5,697.7 1641.0,699.7 1642.6,701.9" fill="#ffffff" clip-path="url(#h11)"/>
<polygon points="1535.3,715.0 1535.0,716.1 1534.3,717.2 1533.1,718.1 1531.5,718.9 1529.6,719.5 1527.5,719.9 1525.3,720.0 1523.1,719.9 1521.0,719.5 1519.1,718.9 1517.5,718.1 1516.3,717.2 1515.6,716.1 1515.3,715.0 1515.6,713.9 1516.3,712.8 1517.5,711.9 1519.1,711.1 1521.0,710.5 1523.1,710.1 1525.3,710.0 1527.5,710.1 1529.6,710.5 1531.5,711.1 1533.1,711.9 1534.3,712.8 1535.0,713.9" fill="#c4c4c4" />
<polygon points="1535.7,718.0 1535.4,719.1 1534.7,720.2 1533.5,721.1 1531.9,721.9 1530.0,722.5 1527.9,722.9 1525.7,723.0 1523.5,722.9 1521.4,722.5 1519.5,721.9 1517.9,721.1 1516.7,720.2 1516.0,719.1 1515.7,718.0 1516.0,716.9 1516.7,715.8 1517.9,714.9 1519.5,714.1 1521.4,713.5 1523.5,713.1 1525.7,713.0 1527.9,713.1 1530.0,713.5 1531.9,714.1 1533.5,714.9 1534.7,715.8 1535.4,716.9" fill="#8a8a8a" clip-path="url(#h12)"/>
<polygon points="1603.7,677.1 1603.4,678.2 1602.7,679.3 1601.5,680.2 1599.9,681.0 1598.0,681.6 1595.9,682.0 1593.7,682.1 1591.5,682.0 1589.4,681.6 1587.5,681.0 1585.9,680.2 1584.7,679.3 1584.0,678.2 1583.7,677.1 1584.0,676.0 1584.7,674.9 1585.9,674.0 1587.5,673.2 1589.4,672.6 1591.5,672.2 1593.7,672.1 1595.9,672.2 1598.0,672.6 1599.9,673.2 1601.5,674.0 1602.7,674.9 1603.4,676.0" fill="#c4c4c4" />
<polygon points="1604.1,680.1 1603.8,681.2 1603.1,682.3 1601.9,683.2 1600.3,684.0 1598.4,684.6 1596.3,685.0 1594.1,685.1 1591.9,685.0 1589.8,684.6 1587.9,684.0 1586.3,683.2 1585.1,682.3 1584.4,681.2 1584.1,680.1 1584.4,679.0 1585.1,677.9 1586.3,677.0 1587.9,676.2 1589.8,675.6 1591.9,675.2 1594.1,675.1 1596.3,675.2 1598.4,675.6 1600.3,676.2 1601.9,677.0 1603.1,677.9 1603.8,679.0" fill="#a0a0a0" clip-path="url(#h13)"/>
<polygon points="1664.5,682.1 1664.2,683.2 1663.5,684.3 1662.3,685.2 1660.7,686.0 1658.8,686.6 1656.7,687.0 1654.5,687.1 1652.3,687.0 1650.2,686.6 1648.3,686.0 1646.7,685.2 1645.5,684.3 1644.8,683.2 1644.5,682.1 1644.8,681.0 1645.5,679.9 1646.7,679.0 1648.3,678.2 1650.2,677.6 1652.3,677.2 1654.5,677.1 1656.7,677.2 1658.8,677.6 1660.7,678.2 1662.3,679.0 1663.5,679.9 1664.2,681.0" fill="#7e7e7e" />
<polygon points="1664.9,685.1 1664.6,686.2 1663.9,687.3 1662.7,688.2 1661.1,689.0 1659.2,689.6 1657.1,690.0 1654.9,690.1 1652.7,690.0 1650.6,689.6 1648.7,689.0 1647.1,688.2 1645.9,687.3 1645.2,686.2 1644.9,685.1 1645.2,684.0 1645.9,682.9 1647.1,682.0 1648.7,681.2 1650.6,680.6 1652.7,680.2 1654.9,680.1 1657.1,680.2 1659.2,680.6 1661.1,681.2 1662.7,682.0 1663.9,682.9 1664.6,684.0" fill="#ffffff" clip-path="url(#h14)"/>
<polygon points="1597.5,719.4 1597.2,720.5 1596.5,721.6 1595.3,722.5 1593.7,723.3 1591.8,723.9 1589.7,724.3 1587.5,724.4 1585.3,724.3 1583.2,723.9 1581.3,723.3 1579.7,722.5 1578.5,721.6 1577.8,720.5 1577.5,719.4 1577.8,718.3 1578.5,717.2 1579.7,716.3 1581.3,715.5 1583.2,714.9 1585.3,714.5 1587.5,714.4 1589.7,714.5 1591.8,714.9 1593.7,715.5 1595.3,716.3 1596.5,717.2 1597.2,718.3" fill="#7e7e7e" />
<polygon points="1597.9,722.4 1597.6,723.5 1596.9,724.6 1595.7,725.5 1594.1,726.3 1592.2,726.9 1590.1,727.3 1587.9,727.4 1585.7,727.3 1583.6,726.9 1581.7,726.3 1580.1,725.5 1578.9,724.6 1578.2,723.5 1577.9,722.4 1578.2,721.3 1578.9,720.2 1580.1,719.3 1581.7,718.5 1583.6,717.9 1585.7,717.5 1587.9,717.4 1590.1,717.5 1592.2,717.9 1594.1,718.5 1595.7,719.3 1596.9,720.2 1597.6,721.3" fill="#ffffff" clip-path="url(#h15)"/>
<polygon points="1487.5,704.0 1624.2,631.0 1625.3,638.6 1488.7,711.0" fill="#8c8c8c" />
<line x1="1488.7" y1="711.0" x2="1625.3" y2="638.6" stroke="#d8d8d8" stroke-width="1.2" />
<polygon points="1489.5,712.0 1536.0,737.0 1536.0,734.0 1489.5,758.7" fill="#8a8a8a" />
<polygon points="1437.4,678.2 1488.3,704.0 1488.3,762.9 1484.7,762.9 1437.4,734.4" fill="#e0e0e0" />
<polygon points="1441.5,699.6 1457.3,693.4 1479.1,705.4 1479.1,709.6 1441.5,730.1" fill="#636363" />
<polygon points="1441.5,731.4 1479.1,710.7 1483.8,713.7 1483.8,755.8" fill="url(#gIn)" />
<polygon points="1437.9,678.6 1488.3,703.6 1486.3,710.2 1479.1,707.1 1457.3,694.6 1441.5,689.9" fill="#f4f4f4" />
<polygon points="1479.1,705.4 1484.0,706.3 1484.0,719.6 1480.8,718.8 1479.1,711.8" fill="#f0f0f0" />
<polygon points="1437.4,679.0 1575.0,604.3 1624.2,631.8 1487.5,705.5" fill="url(#gDE)" />
<polygon points="1125.7,765.1 1293.9,681.8 1364.7,715.4 1400.0,735.0 1250.0,818.0 1209.0,801.4 1186.3,794.1 1192.5,786.9 1186.0,779.0 1177.0,774.5 1169.7,773.9 1161.0,775.5 1153.1,780.1" fill="#dadada" />
<polygon points="1125.7,762.1 1293.9,678.8 1364.7,712.4 1400.0,732.0 1250.0,815.0 1209.0,798.4 1186.3,791.1 1192.5,783.9 1186.0,776.0 1177.0,771.5 1169.7,770.9 1161.0,772.5 1153.1,777.1" fill="#afafaf" />
<polygon points="1326.4,712.4 1325.9,714.7 1324.3,716.8 1321.8,718.8 1318.4,720.4 1314.4,721.6 1309.9,722.3 1305.2,722.6 1300.5,722.3 1296.0,721.6 1292.0,720.4 1288.6,718.8 1286.1,716.8 1284.5,714.7 1284.0,712.4 1284.5,710.1 1286.1,708.0 1288.6,706.0 1292.0,704.4 1296.0,703.2 1300.5,702.5 1305.2,702.2 1309.9,702.5 1314.4,703.2 1318.4,704.4 1321.8,706.0 1324.3,708.0 1325.9,710.1" fill="#7e7e7e" />
<polygon points="1326.8,716.0 1326.3,718.3 1324.7,720.4 1322.2,722.4 1318.8,724.0 1314.8,725.2 1310.3,725.9 1305.6,726.2 1300.9,725.9 1296.4,725.2 1292.4,724.0 1289.0,722.4 1286.5,720.4 1284.9,718.3 1284.4,716.0 1284.9,713.7 1286.5,711.6 1289.0,709.6 1292.4,708.0 1296.4,706.8 1300.9,706.1 1305.6,705.8 1310.3,706.1 1314.8,706.8 1318.8,708.0 1322.2,709.6 1324.7,711.6 1326.3,713.7" fill="#ffffff" clip-path="url(#h16)"/>
<polygon points="1238.5,725.1 1243.4,725.1 1248.3,725.3 1253.0,725.8 1257.7,726.6 1262.1,727.6 1266.2,728.8 1270.1,730.2 1273.7,731.8 1276.8,733.6 1279.6,735.5 1281.9,737.6 1283.8,739.7 1285.1,742.0 1286.0,744.3 1286.3,746.7 1286.1,749.1 1260.5,745.6 1244.7,737.6" fill="#858585" />
<polygon points="1238.9,728.3 1243.8,728.3 1248.7,728.5 1253.4,729.0 1258.1,729.8 1262.5,730.8 1266.6,732.0 1270.5,733.4 1274.1,735.0 1277.2,736.8 1280.0,738.7 1282.3,740.8 1284.2,742.9 1285.5,745.2 1286.4,747.5 1286.7,749.9 1286.5,752.3 1260.9,748.8 1245.1,740.8" fill="#ffffff" clip-path="url(#h17)"/>
<polygon points="1280.8,757.7 1278.3,759.8 1275.3,761.7 1272.0,763.4 1268.2,765.0 1264.2,766.4 1259.9,767.6 1255.4,768.5 1250.7,769.2 1245.9,769.7 1241.0,769.9 1236.1,769.9 1231.3,769.6 1226.5,769.1 1221.9,768.3 1217.5,767.3 1213.4,766.1 1232.8,757.0 1255.2,754.3" fill="#858585" />
<polygon points="1281.2,760.9 1278.7,763.0 1275.7,764.9 1272.4,766.6 1268.6,768.2 1264.6,769.6 1260.3,770.8 1255.8,771.7 1251.1,772.4 1246.3,772.9 1241.4,773.1 1236.5,773.1 1231.7,772.8 1226.9,772.3 1222.3,771.5 1217.9,770.5 1213.8,769.3 1233.2,760.2 1255.6,757.5" fill="#ffffff" clip-path="url(#h18)"/>
<polygon points="1200.7,759.7 1198.3,757.6 1196.4,755.5 1195.0,753.2 1194.1,750.9 1193.7,748.5 1193.8,746.2 1194.5,743.8 1195.6,741.5 1197.3,739.2 1199.4,737.1 1202.0,735.0 1205.0,733.1 1208.4,731.4 1212.1,729.8 1216.2,728.5 1220.5,727.3 1226.7,739.9 1220.1,750.6" fill="#858585" />
<polygon points="1201.1,762.9 1198.7,760.8 1196.8,758.7 1195.4,756.4 1194.5,754.1 1194.1,751.7 1194.2,749.4 1194.9,747.0 1196.0,744.7 1197.7,742.4 1199.8,740.3 1202.4,738.2 1205.4,736.3 1208.8,734.6 1212.5,733.0 1216.6,731.7 1220.9,730.5 1227.1,743.1 1220.5,753.8" fill="#ffffff" clip-path="url(#h19)"/>
<polygon points="1248.5,743.3 1250.7,744.7 1251.9,746.4 1251.9,748.3 1250.8,750.0 1248.6,751.5 1245.5,752.6 1242.0,753.2 1238.2,753.3 1234.6,752.8 1231.5,751.7 1229.3,750.3 1228.1,748.6 1228.1,746.7 1229.2,745.0 1231.4,743.5 1234.5,742.4 1238.0,741.8 1241.8,741.7 1245.4,742.2" fill="#858585" />
<polygon points="1248.9,746.3 1251.1,747.7 1252.3,749.4 1252.3,751.3 1251.2,753.0 1249.0,754.5 1245.9,755.6 1242.4,756.2 1238.6,756.3 1235.0,755.8 1231.9,754.7 1229.7,753.3 1228.5,751.6 1228.5,749.7 1229.6,748.0 1231.8,746.5 1234.9,745.4 1238.4,744.8 1242.2,744.7 1245.8,745.2" fill="#ffffff" clip-path="url(#h20)"/>
<polygon points="1265.2,838.0 1310.0,814.0 1310.0,856.0 1265.2,884.0" fill="#8a8a8a" />
<polygon points="1265.4,834.5 1425.5,748.4 1513.0,796.2 1356.2,887.7 1335.4,875.6 1328.6,856.7 1317.9,867.5 1297.0,855.4 1297.0,852.5 1300.4,850.7 1309.8,846.6 1302.0,843.0 1292.0,841.5 1283.0,842.0 1277.5,843.3 1277.5,839.0 1265.4,837.0" fill="#dadada" />
<polygon points="1265.4,831.5 1425.5,745.4 1513.0,793.2 1356.2,884.7 1335.4,872.6 1328.6,853.7 1317.9,864.5 1297.0,852.4 1297.0,849.5 1300.4,847.7 1309.8,843.6 1302.0,840.0 1292.0,838.5 1283.0,839.0 1277.5,840.3 1277.5,836.0 1265.4,834.0" fill="url(#gFP)" />
<polygon points="1377.1,827.5 1376.5,830.3 1374.8,832.9 1372.1,835.2 1368.5,837.2 1364.1,838.7 1359.3,839.6 1354.2,839.9 1349.1,839.6 1344.3,838.7 1339.9,837.2 1336.3,835.2 1333.6,832.9 1331.9,830.3 1331.3,827.5 1331.9,824.7 1333.6,822.1 1336.3,819.8 1339.9,817.8 1344.3,816.3 1349.1,815.4 1354.2,815.1 1359.3,815.4 1364.1,816.3 1368.5,817.8 1372.1,819.8 1374.8,822.1 1376.5,824.7" fill="#8c8c8c" />
<polygon points="1377.5,836.5 1376.9,839.3 1375.2,841.9 1372.5,844.2 1368.9,846.2 1364.5,847.7 1359.7,848.6 1354.6,848.9 1349.5,848.6 1344.7,847.7 1340.3,846.2 1336.7,844.2 1334.0,841.9 1332.3,839.3 1331.7,836.5 1332.3,833.7 1334.0,831.1 1336.7,828.8 1340.3,826.8 1344.7,825.3 1349.5,824.4 1354.6,824.1 1359.7,824.4 1364.5,825.3 1368.9,826.8 1372.5,828.8 1375.2,831.1 1376.9,833.7" fill="#ffffff" clip-path="url(#h21)"/>
<polygon points="1423.0,813.9 1418.0,813.9 1413.1,813.6 1408.2,813.1 1403.5,812.4 1399.1,811.4 1394.8,810.1 1390.9,808.7 1387.3,807.1 1384.1,805.3 1381.3,803.3 1378.9,801.2 1377.0,799.0 1375.6,796.7 1374.8,794.3 1374.4,791.9 1374.6,789.5 1400.6,793.0 1416.7,801.1" fill="#858585" />
<polygon points="1423.4,817.1 1418.4,817.1 1413.5,816.8 1408.6,816.3 1403.9,815.6 1399.5,814.6 1395.2,813.3 1391.3,811.9 1387.7,810.3 1384.5,808.5 1381.7,806.5 1379.3,804.4 1377.4,802.2 1376.0,799.9 1375.2,797.5 1374.8,795.1 1375.0,792.7 1401.0,796.2 1417.1,804.3" fill="#ffffff" clip-path="url(#h22)"/>
<polygon points="1380.0,780.7 1382.6,778.6 1385.6,776.7 1389.0,774.9 1392.8,773.3 1396.9,771.9 1401.3,770.7 1405.9,769.7 1410.6,769.0 1415.5,768.5 1420.5,768.3 1425.5,768.3 1430.4,768.6 1435.2,769.1 1439.9,769.9 1444.4,770.9 1448.6,772.2 1428.8,781.4 1406.0,784.2" fill="#858585" />
<polygon points="1380.4,783.9 1383.0,781.8 1386.0,779.9 1389.4,778.1 1393.2,776.5 1397.3,775.1 1401.7,773.9 1406.3,772.9 1411.0,772.2 1415.9,771.7 1420.9,771.5 1425.9,771.5 1430.8,771.8 1435.6,772.3 1440.3,773.1 1444.8,774.1 1449.0,775.4 1429.2,784.6 1406.4,787.4" fill="#ffffff" clip-path="url(#h23)"/>
<polygon points="1461.5,778.7 1463.9,780.8 1465.8,783.0 1467.2,785.3 1468.2,787.7 1468.6,790.1 1468.4,792.5 1467.8,794.9 1466.6,797.2 1464.9,799.5 1462.8,801.7 1460.1,803.8 1457.1,805.7 1453.6,807.5 1449.8,809.1 1445.7,810.4 1441.3,811.6 1435.0,798.9 1441.8,787.9" fill="#858585" />
<polygon points="1461.9,781.9 1464.3,784.0 1466.2,786.2 1467.6,788.5 1468.6,790.9 1469.0,793.3 1468.8,795.7 1468.2,798.1 1467.0,800.4 1465.3,802.7 1463.2,804.9 1460.5,807.0 1457.5,808.9 1454.0,810.7 1450.2,812.3 1446.1,813.6 1441.7,814.8 1435.4,802.1 1442.2,791.1" fill="#ffffff" clip-path="url(#h24)"/>
<polygon points="1430.1,786.8 1432.4,788.3 1433.6,790.0 1433.6,791.9 1432.4,793.7 1430.2,795.2 1427.1,796.3 1423.5,796.9 1419.7,797.0 1416.0,796.5 1412.9,795.4 1410.6,793.9 1409.4,792.2 1409.4,790.3 1410.6,788.5 1412.8,787.0 1415.9,785.9 1419.5,785.3 1423.3,785.2 1427.0,785.7" fill="#858585" />
<polygon points="1430.5,789.8 1432.8,791.3 1434.0,793.0 1434.0,794.9 1432.8,796.7 1430.6,798.2 1427.5,799.3 1423.9,799.9 1420.1,800.0 1416.4,799.5 1413.3,798.4 1411.0,796.9 1409.8,795.2 1409.8,793.3 1411.0,791.5 1413.2,790.0 1416.3,788.9 1419.9,788.3 1423.7,788.2 1427.4,788.7" fill="#ffffff" clip-path="url(#h25)"/>
<polygon points="1264.9,826.0 1424.1,738.0 1425.5,745.4 1265.4,831.5" fill="#8c8c8c" />
<line x1="1265.4" y1="831.5" x2="1425.5" y2="745.4" stroke="#d8d8d8" stroke-width="1.2" />
<polygon points="1208.9,794.3 1265.0,822.7 1265.0,887.7 1261.1,887.7 1208.9,856.3" fill="#e0e0e0" />
<polygon points="1213.5,817.9 1230.8,811.0 1254.9,824.3 1254.9,828.9 1213.5,851.5" fill="#636363" />
<polygon points="1213.5,853.0 1254.9,830.1 1260.1,833.5 1260.1,879.9" fill="url(#gIn)" />
<polygon points="1209.4,794.8 1265.0,822.3 1262.8,829.6 1254.9,826.2 1230.8,812.4 1213.5,807.2" fill="#f4f4f4" />
<polygon points="1254.9,824.3 1260.2,825.3 1260.2,839.9 1256.8,839.1 1254.9,831.3" fill="#f0f0f0" />
<polygon points="1209.7,797.3 1364.7,710.3 1424.1,738.5 1264.9,827.0" fill="url(#gD)" />
<polygon points="851.8,876.6 1038.5,786.8 1084.0,811.7 1084.0,815.0 1072.1,817.9 1074.0,825.0 1078.0,831.0 1083.5,833.4 1093.9,834.4 1106.0,833.0 1119.2,829.8 1129.0,835.5 1165.0,855.0 1000.0,943.0 968.8,930.7 936.4,920.9 958.0,909.1 957.6,905.0 953.0,898.0 944.0,893.0 931.0,891.5 918.0,893.5 910.0,898.0 905.4,904.3 887.2,895.3 888.2,886.4 884.0,883.0 876.0,882.0 869.5,885.4" fill="#dadada" />
<polygon points="851.8,873.6 1038.5,783.8 1084.0,808.7 1084.0,812.0 1072.1,814.9 1074.0,822.0 1078.0,828.0 1083.5,830.4 1093.9,831.4 1106.0,830.0 1119.2,826.8 1129.0,832.5 1165.0,852.0 1000.0,940.0 968.8,927.7 936.4,917.9 958.0,906.1 957.6,902.0 953.0,895.0 944.0,890.0 931.0,888.5 918.0,890.5 910.0,895.0 905.4,901.3 887.2,892.3 888.2,883.4 884.0,880.0 876.0,879.0 869.5,882.4" fill="#b3b3b3" />
<polygon points="946.8,864.7 946.2,867.4 944.3,870.0 941.3,872.3 937.3,874.2 932.5,875.7 927.2,876.6 921.6,876.9 916.0,876.6 910.7,875.7 905.9,874.2 901.9,872.3 898.9,870.0 897.0,867.4 896.4,864.7 897.0,862.0 898.9,859.4 901.9,857.1 905.9,855.2 910.7,853.7 916.0,852.8 921.6,852.5 927.2,852.8 932.5,853.7 937.3,855.2 941.3,857.1 944.3,859.4 946.2,862.0" fill="#7e7e7e" />
<polygon points="947.2,868.3 946.6,871.0 944.7,873.6 941.7,875.9 937.7,877.8 932.9,879.3 927.6,880.2 922.0,880.5 916.4,880.2 911.1,879.3 906.3,877.8 902.3,875.9 899.3,873.6 897.4,871.0 896.8,868.3 897.4,865.6 899.3,863.0 902.3,860.7 906.3,858.8 911.1,857.3 916.4,856.4 922.0,856.1 927.6,856.4 932.9,857.3 937.7,858.8 941.7,860.7 944.7,863.0 946.6,865.6" fill="#ffffff" clip-path="url(#h26)"/>
<polygon points="1029.1,824.2 1028.5,826.8 1026.7,829.4 1023.8,831.6 1020.0,833.5 1015.3,834.9 1010.2,835.8 1004.8,836.1 999.4,835.8 994.3,834.9 989.6,833.5 985.8,831.6 982.9,829.4 981.1,826.8 980.5,824.2 981.1,821.6 982.9,819.0 985.8,816.8 989.6,814.9 994.3,813.5 999.4,812.6 1004.8,812.3 1010.2,812.6 1015.3,813.5 1020.0,814.9 1023.8,816.8 1026.7,819.0 1028.5,821.6" fill="#7e7e7e" />
<polygon points="1029.5,827.8 1028.9,830.4 1027.1,833.0 1024.2,835.2 1020.4,837.1 1015.7,838.5 1010.6,839.4 1005.2,839.7 999.8,839.4 994.7,838.5 990.0,837.1 986.2,835.2 983.3,833.0 981.5,830.4 980.9,827.8 981.5,825.2 983.3,822.6 986.2,820.4 990.0,818.5 994.7,817.1 999.8,816.2 1005.2,815.9 1010.6,816.2 1015.7,817.1 1020.4,818.5 1024.2,820.4 1027.1,822.6 1028.9,825.2" fill="#ffffff" clip-path="url(#h27)"/>
<polygon points="1042.1,859.4 1041.5,862.3 1039.6,865.0 1036.6,867.4 1032.5,869.5 1027.7,871.0 1022.4,872.0 1016.7,872.3 1011.0,872.0 1005.7,871.0 1000.9,869.5 996.8,867.4 993.8,865.0 991.9,862.3 991.3,859.4 991.9,856.5 993.8,853.8 996.8,851.4 1000.9,849.3 1005.7,847.8 1011.0,846.8 1016.7,846.5 1022.4,846.8 1027.7,847.8 1032.5,849.3 1036.6,851.4 1039.6,853.8 1041.5,856.5" fill="#7e7e7e" />
<polygon points="1042.5,863.0 1041.9,865.9 1040.0,868.6 1037.0,871.0 1032.9,873.1 1028.1,874.6 1022.8,875.6 1017.1,875.9 1011.4,875.6 1006.1,874.6 1001.3,873.1 997.2,871.0 994.2,868.6 992.3,865.9 991.7,863.0 992.3,860.1 994.2,857.4 997.2,855.0 1001.3,852.9 1006.1,851.4 1011.4,850.4 1017.1,850.1 1022.8,850.4 1028.1,851.4 1032.9,852.9 1037.0,855.0 1040.0,857.4 1041.9,860.1" fill="#ffffff" clip-path="url(#h28)"/>
<polygon points="974.7,843.5 974.4,844.7 973.6,845.9 972.3,846.9 970.6,847.8 968.6,848.5 966.3,848.9 963.9,849.0 961.5,848.9 959.2,848.5 957.2,847.8 955.5,846.9 954.2,845.9 953.4,844.7 953.1,843.5 953.4,842.3 954.2,841.1 955.5,840.1 957.2,839.2 959.2,838.5 961.5,838.1 963.9,838.0 966.3,838.1 968.6,838.5 970.6,839.2 972.3,840.1 973.6,841.1 974.4,842.3" fill="#7e7e7e" />
<polygon points="975.1,846.8 974.8,848.0 974.0,849.2 972.7,850.2 971.0,851.1 969.0,851.8 966.7,852.2 964.3,852.3 961.9,852.2 959.6,851.8 957.6,851.1 955.9,850.2 954.6,849.2 953.8,848.0 953.5,846.8 953.8,845.6 954.6,844.4 955.9,843.4 957.6,842.5 959.6,841.8 961.9,841.4 964.3,841.3 966.7,841.4 969.0,841.8 971.0,842.5 972.7,843.4 974.0,844.4 974.8,845.6" fill="#ffffff" clip-path="url(#h29)"/>
<polygon points="986.1,880.9 985.8,882.2 985.0,883.5 983.6,884.6 981.8,885.5 979.6,886.2 977.2,886.7 974.7,886.8 972.2,886.7 969.8,886.2 967.6,885.5 965.8,884.6 964.4,883.5 963.6,882.2 963.3,880.9 963.6,879.6 964.4,878.3 965.8,877.2 967.6,876.3 969.8,875.6 972.2,875.1 974.7,875.0 977.2,875.1 979.6,875.6 981.8,876.3 983.6,877.2 985.0,878.3 985.8,879.6" fill="#7e7e7e" />
<polygon points="986.5,884.4 986.2,885.8 985.4,887.0 984.0,888.1 982.2,889.1 980.0,889.8 977.6,890.2 975.1,890.3 972.6,890.2 970.2,889.8 968.0,889.1 966.2,888.1 964.8,887.0 964.0,885.8 963.7,884.4 964.0,883.1 964.8,881.9 966.2,880.8 968.0,879.8 970.2,879.1 972.6,878.7 975.1,878.5 977.6,878.7 980.0,879.1 982.2,879.8 984.0,880.8 985.4,881.9 986.2,883.1" fill="#ffffff" clip-path="url(#h30)"/>
<polygon points="1056.8,804.0 1056.5,805.3 1055.7,806.5 1054.3,807.6 1052.4,808.5 1050.2,809.1 1047.8,809.6 1045.2,809.7 1042.6,809.6 1040.2,809.1 1038.0,808.5 1036.1,807.6 1034.7,806.5 1033.9,805.3 1033.6,804.0 1033.9,802.7 1034.7,801.5 1036.1,800.4 1038.0,799.5 1040.2,798.9 1042.6,798.4 1045.2,798.3 1047.8,798.4 1050.2,798.9 1052.4,799.5 1054.3,800.4 1055.7,801.5 1056.5,802.7" fill="#7e7e7e" />
<polygon points="1057.2,807.4 1056.9,808.7 1056.1,809.9 1054.7,811.0 1052.8,811.9 1050.6,812.6 1048.2,813.0 1045.6,813.1 1043.0,813.0 1040.6,812.6 1038.4,811.9 1036.5,811.0 1035.1,809.9 1034.3,808.7 1034.0,807.4 1034.3,806.2 1035.1,804.9 1036.5,803.9 1038.4,803.0 1040.6,802.3 1043.0,801.9 1045.6,801.7 1048.2,801.9 1050.6,802.3 1052.8,803.0 1054.7,803.9 1056.1,804.9 1056.9,806.2" fill="#ffffff" clip-path="url(#h31)"/>
<polygon points="1067.8,839.2 1067.5,840.5 1066.7,841.7 1065.4,842.8 1063.6,843.7 1061.5,844.3 1059.1,844.8 1056.6,844.9 1054.1,844.8 1051.7,844.3 1049.6,843.7 1047.8,842.8 1046.5,841.7 1045.7,840.5 1045.4,839.2 1045.7,837.9 1046.5,836.7 1047.8,835.6 1049.6,834.7 1051.7,834.1 1054.1,833.6 1056.6,833.5 1059.1,833.6 1061.5,834.1 1063.6,834.7 1065.4,835.6 1066.7,836.7 1067.5,837.9" fill="#7e7e7e" />
<polygon points="1068.2,842.6 1067.9,843.9 1067.1,845.1 1065.8,846.2 1064.0,847.1 1061.9,847.8 1059.5,848.2 1057.0,848.3 1054.5,848.2 1052.1,847.8 1050.0,847.1 1048.2,846.2 1046.9,845.1 1046.1,843.9 1045.8,842.6 1046.1,841.4 1046.9,840.1 1048.2,839.1 1050.0,838.2 1052.1,837.5 1054.5,837.1 1057.0,836.9 1059.5,837.1 1061.9,837.5 1064.0,838.2 1065.8,839.1 1067.1,840.1 1067.9,841.4" fill="#ffffff" clip-path="url(#h32)"/>
<polygon points="1033.5,952.3 1207.8,855.9 1206.8,927.7 1033.5,1027.2" fill="url(#gSide)" />
<polygon points="968.3,919.0 1033.5,952.0 1033.5,1027.5 1029.0,1027.5 968.3,991.0" fill="#e0e0e0" />
<polygon points="973.6,946.4 993.8,938.4 1021.8,953.8 1021.8,959.2 973.6,985.5" fill="#636363" />
<polygon points="973.6,987.2 1021.8,960.6 1027.8,964.5 1027.8,1018.5" fill="url(#gIn)" />
<polygon points="968.9,919.5 1033.5,951.5 1031.0,960.0 1021.8,956.0 993.8,940.0 973.6,934.0" fill="#f4f4f4" />
<polygon points="1021.8,953.8 1028.0,955.0 1028.0,972.0 1024.0,971.0 1021.8,962.0" fill="#f0f0f0" />
<polygon points="949.4,965.3 968.3,955.9 968.3,985.0 949.4,979.0" fill="#d8d8d8" />
<polygon points="954.1,967.5 968.3,960.0 968.3,983.4 954.1,976.0" fill="#5e5e5e" />
<polygon points="950.0,929.0 968.3,925.0 968.3,944.0 951.0,945.0" fill="#e4e4e4" />
<polygon points="954.1,933.6 962.2,938.4 954.1,942.4" fill="#4a4a4a" />
<polygon points="968.9,919.5 1158.6,827.4 1207.8,855.9 1033.5,951.5" fill="url(#gD)" />
<line x1="1033.5" y1="952.5" x2="1207.8" y2="856.5" stroke="#d0d0d0" stroke-width="1.2" />
<path d="M488.7,1050 L751.5,921 L870,985 L700,1136 L629,1106.3 L584.3,1098.4 L582.9,1094 Q601,1082 626.4,1076.7 L580,1074.5 L559,1083.2 L531.4,1065.8 L543.8,1055 L542.3,1036.1 Q520,1040 508.3,1057.1 L506.8,1058.6 Z" fill="#dadada" transform="translate(0,3)"/>
<path d="M488.7,1047 L751.5,921 L870,985 L700,1136 L629,1106.3 L584.3,1098.4 L582.9,1094 Q601,1082 626.4,1076.7 L580,1074.5 L559,1083.2 L531.4,1065.8 L543.8,1055 L542.3,1036.1 Q520,1040 508.3,1057.1 L506.8,1058.6 Z" fill="#b3b3b3" />
<polygon points="590.2,1059.3 589.8,1061.2 588.5,1063.1 586.6,1064.7 583.9,1066.1 580.7,1067.1 577.2,1067.8 573.5,1068.0 569.8,1067.8 566.3,1067.1 563.1,1066.1 560.4,1064.7 558.5,1063.1 557.2,1061.2 556.8,1059.3 557.2,1057.4 558.5,1055.5 560.4,1053.9 563.1,1052.5 566.3,1051.5 569.8,1050.8 573.5,1050.6 577.2,1050.8 580.7,1051.5 583.9,1052.5 586.6,1053.9 588.5,1055.5 589.8,1057.4" fill="#7e7e7e" />
<polygon points="590.6,1062.9 590.2,1064.8 588.9,1066.7 587.0,1068.3 584.3,1069.7 581.1,1070.7 577.6,1071.4 573.9,1071.6 570.2,1071.4 566.7,1070.7 563.5,1069.7 560.8,1068.3 558.9,1066.7 557.6,1064.8 557.2,1062.9 557.6,1061.0 558.9,1059.1 560.8,1057.5 563.5,1056.1 566.7,1055.1 570.2,1054.4 573.9,1054.2 577.6,1054.4 581.1,1055.1 584.3,1056.1 587.0,1057.5 588.9,1059.1 590.2,1061.0" fill="#ffffff" clip-path="url(#h33)"/>
<polygon points="572.8,1027.4 588.0,1027.0 603.0,1030.0 616.0,1035.0 626.0,1042.0 633.0,1050.0 637.2,1062.2 593.0,1049.9" fill="#7e7e7e" />
<polygon points="573.2,1029.9 588.4,1029.5 603.4,1032.5 616.4,1037.5 626.4,1044.5 633.4,1052.5 637.6,1064.7 593.4,1052.4" fill="#ffffff" clip-path="url(#h34)"/>
<polygon points="697.4,1012.9 696.6,1016.1 694.4,1019.2 690.8,1021.9 686.0,1024.2 680.2,1026.0 673.8,1027.0 667.0,1027.4 660.2,1027.0 653.8,1026.0 648.0,1024.2 643.2,1021.9 639.6,1019.2 637.4,1016.1 636.6,1012.9 637.4,1009.7 639.6,1006.6 643.2,1003.9 648.0,1001.6 653.8,999.8 660.2,998.8 667.0,998.4 673.8,998.8 680.2,999.8 686.0,1001.6 690.8,1003.9 694.4,1006.6 696.6,1009.7" fill="#7e7e7e" />
<polygon points="697.8,1016.5 697.0,1019.7 694.8,1022.8 691.2,1025.5 686.4,1027.8 680.6,1029.6 674.2,1030.6 667.4,1031.0 660.6,1030.6 654.2,1029.6 648.4,1027.8 643.6,1025.5 640.0,1022.8 637.8,1019.7 637.0,1016.5 637.8,1013.3 640.0,1010.2 643.6,1007.5 648.4,1005.2 654.2,1003.4 660.6,1002.4 667.4,1002.0 674.2,1002.4 680.6,1003.4 686.4,1005.2 691.2,1007.5 694.8,1010.2 697.0,1013.3" fill="#ffffff" clip-path="url(#h35)"/>
<polygon points="751.7,939.7 758.2,939.6 764.7,939.8 771.2,940.4 777.4,941.3 783.4,942.5 789.1,944.0 794.4,945.8 799.3,947.8 803.7,950.1 807.6,952.7 810.9,955.4 813.6,958.2 815.6,961.2 817.0,964.3 817.7,967.5 817.7,970.7 783.1,966.6 761.1,956.3" fill="#858585" />
<polygon points="752.1,942.9 758.6,942.8 765.1,943.0 771.6,943.6 777.8,944.5 783.8,945.7 789.5,947.2 794.8,949.0 799.7,951.0 804.1,953.3 808.0,955.9 811.3,958.6 814.0,961.4 816.0,964.4 817.4,967.5 818.1,970.7 818.1,973.9 783.5,969.8 761.5,959.5" fill="#ffffff" clip-path="url(#h36)"/>
<polygon points="811.4,982.3 808.2,985.1 804.4,987.8 800.1,990.2 795.3,992.4 790.0,994.3 784.4,996.0 778.4,997.4 772.2,998.4 765.8,999.1 759.3,999.6 752.7,999.6 746.2,999.4 739.8,998.8 733.6,997.8 727.6,996.6 722.0,995.1 747.1,982.5 776.8,978.3" fill="#858585" />
<polygon points="811.8,985.5 808.6,988.3 804.8,991.0 800.5,993.4 795.7,995.6 790.4,997.5 784.8,999.2 778.8,1000.6 772.6,1001.6 766.2,1002.3 759.7,1002.8 753.1,1002.8 746.6,1002.6 740.2,1002.0 734.0,1001.0 728.0,999.8 722.4,998.3 747.5,985.7 777.2,981.5" fill="#ffffff" clip-path="url(#h37)"/>
<polygon points="704.3,986.8 701.0,984.1 698.2,981.2 696.1,978.2 694.7,975.2 694.0,972.0 693.9,968.8 694.5,965.7 695.9,962.6 697.9,959.5 700.5,956.6 703.7,953.8 707.6,951.2 711.9,948.8 716.8,946.6 722.1,944.7 727.8,943.1 737.2,959.7 729.4,974.2" fill="#858585" />
<polygon points="704.7,990.0 701.4,987.3 698.6,984.4 696.5,981.4 695.1,978.4 694.4,975.2 694.3,972.0 694.9,968.9 696.3,965.8 698.3,962.7 700.9,959.8 704.1,957.0 708.0,954.4 712.3,952.0 717.2,949.8 722.5,947.9 728.2,946.3 737.6,962.9 729.8,977.4" fill="#ffffff" clip-path="url(#h38)"/>
<polygon points="767.1,963.9 770.1,965.9 771.7,968.2 771.7,970.6 770.2,973.0 767.3,975.0 763.2,976.5 758.4,977.3 753.4,977.3 748.6,976.6 744.5,975.3 741.5,973.3 739.9,971.0 739.9,968.6 741.4,966.2 744.3,964.2 748.4,962.7 753.2,961.9 758.2,961.9 763.0,962.6" fill="#858585" />
<polygon points="767.5,966.9 770.5,968.9 772.1,971.2 772.1,973.6 770.6,976.0 767.7,978.0 763.6,979.5 758.8,980.3 753.8,980.3 749.0,979.6 744.9,978.3 741.9,976.3 740.3,974.0 740.3,971.6 741.8,969.2 744.7,967.2 748.8,965.7 753.6,964.9 758.6,964.9 763.4,965.6" fill="#ffffff" clip-path="url(#h39)"/>
<polygon points="698.5,1135.3 946.4,1003.4 946.4,1081.6 698.5,1220.4" fill="url(#gSideB)" />
<polygon points="734.7,1143.2 752.2,1133.9 752.2,1190.8 734.7,1200.6" fill="#ffffff" />
<polygon points="734.7,1143.2 745.6,1137.4 745.6,1186.2 734.7,1178.9" fill="#707070" />
<polygon points="745.6,1137.4 751.7,1134.2 751.7,1190.7 745.6,1186.2" fill="#d2d2d2" />
<polygon points="734.7,1176.4 751.7,1188.2 751.7,1190.7 734.7,1178.9" fill="#cfcfcf" />
<polygon points="793.4,1111.0 810.2,1102.1 810.2,1158.3 793.4,1167.7" fill="#ffffff" />
<polygon points="793.4,1111.0 803.8,1105.5 803.8,1154.6 793.4,1148.1" fill="#707070" />
<polygon points="803.8,1105.5 809.7,1102.3 809.7,1158.6 803.8,1154.6" fill="#d2d2d2" />
<polygon points="793.4,1145.6 809.7,1156.1 809.7,1158.6 793.4,1148.1" fill="#cfcfcf" />
<polygon points="850.7,1082.4 866.8,1073.8 866.8,1126.6 850.7,1135.6" fill="#ffffff" />
<polygon points="850.7,1082.4 860.7,1077.1 860.7,1123.0 850.7,1117.4" fill="#707070" />
<polygon points="860.7,1077.1 866.3,1074.1 866.3,1126.5 860.7,1123.0" fill="#d2d2d2" />
<polygon points="850.7,1114.9 866.3,1124.0 866.3,1126.5 850.7,1117.4" fill="#cfcfcf" />
<polygon points="905.9,1051.7 922.0,1043.1 922.0,1095.7 905.9,1104.7" fill="#ffffff" />
<polygon points="905.9,1051.7 915.9,1046.4 915.9,1092.7 905.9,1086.6" fill="#707070" />
<polygon points="915.9,1046.4 921.5,1043.4 921.5,1096.4 915.9,1092.7" fill="#d2d2d2" />
<polygon points="905.9,1084.1 921.5,1093.9 921.5,1096.4 905.9,1086.6" fill="#cfcfcf" />
<line x1="700.5" y1="1134.6" x2="946.4" y2="1003.3" stroke="#d2d2d2" stroke-width="1.3" />
<polygon points="625.7,1098.3 698.7,1134.5 698.7,1219.4 694.0,1219.0 625.7,1178.0" fill="#dedede" />
<polygon points="631.4,1127.3 665.6,1120.0 665.6,1159.4 631.4,1173.9" fill="#878787" />
<polygon points="631.4,1175.5 665.6,1159.4 693.5,1173.9 693.5,1210.1" fill="url(#gIn)" />
<polygon points="665.6,1140.0 693.5,1155.0 693.5,1172.0 665.6,1158.0" fill="#f6f6f6" />
<polygon points="665.6,1125.0 677.0,1131.0 677.0,1142.0 665.6,1139.0" fill="#4e4e4e" />
<polygon points="603.5,1151.0 625.2,1141.8 625.2,1172.8 603.5,1167.7" fill="#d6d6d6" />
<polygon points="608.0,1154.0 625.0,1147.0 625.0,1166.0 608.0,1162.0" fill="#6e6e6e" />
<polygon points="603.5,1108.7 625.2,1099.3 625.2,1120.0 608.6,1124.2 603.5,1122.0" fill="#d6d6d6" />
<polygon points="608.6,1115.0 625.2,1110.0 625.2,1120.0 608.6,1124.2" fill="#7a7a7a" />
<polygon points="628.3,1094.2 888.0,957.5 947.1,1002.8 700.5,1134.2" fill="url(#gD)" />
<polygon points="628.3,1094.2 700.5,1134.2 698.0,1141.0 668.0,1126.0 634.0,1129.0 630.0,1120.0" fill="#f3f3f3" />
<polygon points="375.8,1315.2 595.4,1194.9 596.8,1296.4 377.2,1423.9" fill="#7b7b7b" />
<g clip-path="url(#h40)"><line x1="370" y1="1362.0" x2="600" y2="1242.5" stroke="#b8b8b8" stroke-width="3"/><line x1="370" y1="1368.0" x2="600" y2="1248.5" stroke="#b8b8b8" stroke-width="3"/><line x1="370" y1="1374.0" x2="600" y2="1254.5" stroke="#b8b8b8" stroke-width="3"/><line x1="370" y1="1380.0" x2="600" y2="1260.5" stroke="#b8b8b8" stroke-width="3"/><line x1="370" y1="1386.0" x2="600" y2="1266.5" stroke="#b8b8b8" stroke-width="3"/><line x1="370" y1="1392.0" x2="600" y2="1272.5" stroke="#b8b8b8" stroke-width="3"/><line x1="370" y1="1398.0" x2="600" y2="1278.5" stroke="#b8b8b8" stroke-width="3"/><line x1="370" y1="1404.0" x2="600" y2="1284.5" stroke="#b8b8b8" stroke-width="3"/></g>
<line x1="376.5" y1="1316.0" x2="595.4" y2="1196.0" stroke="#cfcfcf" stroke-width="1.4" />
<polygon points="281.4,1277.6 376.5,1315.0 377.2,1424.0 281.4,1376.2" fill="#e7e7e7" />
<polygon points="289.8,1311.9 315.8,1304.0 316.2,1356.8 292.4,1369.2" fill="url(#gAl)" />
<polygon points="298.2,1291.3 318.4,1300.5 315.8,1304.0 298.2,1312.8" fill="#b4b4b4" />
<polygon points="289.8,1311.9 298.2,1309.0 298.2,1312.8 290.0,1316.0" fill="#f4f4f4" />
<polygon points="332.0,1307.1 356.7,1320.7 355.8,1332.2 333.4,1344.5" fill="#666666" />
<polygon points="333.4,1344.5 355.8,1332.2 366.4,1337.5 366.4,1363.9" fill="#8c8c8c" />
<polygon points="356.7,1320.7 366.8,1313.0 366.8,1349.8 358.0,1343.6" fill="#f3f3f3" />
<polygon points="293.8,1370.0 317.5,1356.8 366.8,1380.6 366.8,1407.9" fill="url(#gIn)" />
<polygon points="282.0,1281.0 376.0,1318.0 376.0,1322.0 282.0,1290.0" fill="#f6f6f6" />
<polygon points="280.0,1278.0 500.4,1157.8 595.4,1194.9 375.8,1315.2" fill="url(#gA)" />
<line x1="207.4" y1="1307" x2="1820.4" y2="480.7" stroke="#3a3f42" stroke-width="1.6"/>
<line x1="299" y1="1354" x2="1854.5" y2="499.3" stroke="#3a3f42" stroke-width="1.6"/>
<line x1="895" y1="959" x2="952" y2="990" stroke="#3a3f42" stroke-width="1.6"/>
<polygon points="891.4,957.1 904.5,958.2 900,966.5" fill="#3a3f42"/>
<polygon points="955.6,991.8 942.5,990.7 947,982.4" fill="#3a3f42"/>
<line x1="116" y1="685.2" x2="1210" y2="685.2" stroke="#4a5053" stroke-width="1.7"/>
<circle cx="1210.7" cy="685.2" r="6" fill="#4a5053"/>
<line x1="119" y1="1110" x2="474" y2="1110" stroke="#4a5053" stroke-width="1.7"/>
<circle cx="474.7" cy="1110" r="6.2" fill="#4a5053"/>
<text x="116.4" y="657.6" font-size="39.5" stroke="#4a5053" stroke-width="0.5" textLength="673" lengthAdjust="spacingAndGlyphs">Встраиваемый со скрытым фланцем</text>
<text x="116" y="1031.3" font-size="39.5" stroke="#4a5053" stroke-width="0.5" textLength="273.7" lengthAdjust="spacingAndGlyphs">Встраиваемый</text>
<text x="116" y="1089.7" font-size="39.5" stroke="#4a5053" stroke-width="0.5" textLength="128.9" lengthAdjust="spacingAndGlyphs">гибкий</text>
<text x="808.4" y="932.8" font-size="34" stroke="#4a5053" stroke-width="0.4" textLength="88.9" lengthAdjust="spacingAndGlyphs">12 мм</text>
<circle cx="1761.9" cy="701.8" r="20" fill="#000"/>
<circle cx="1761.9" cy="758.6" r="19.5" fill="#fff" stroke="#555" stroke-width="1.2"/>
<text x="1803.6" y="713" font-size="40" stroke="#4a5053" stroke-width="0.45" textLength="126.2" lengthAdjust="spacingAndGlyphs">052226</text>
<text x="1803.6" y="771.3" font-size="40" stroke="#4a5053" stroke-width="0.45" textLength="122.1" lengthAdjust="spacingAndGlyphs">052241</text>
<circle cx="1553.3" cy="828.4" r="19.5" fill="#dadada" stroke="#6e6e6e" stroke-width="1.2"/>
<text x="1594.6" y="842.9" font-size="40" stroke="#4a5053" stroke-width="0.45" textLength="126.8" lengthAdjust="spacingAndGlyphs">040325</text>
<circle cx="1296.6" cy="946.9" r="19.5" fill="#dadada" stroke="#6e6e6e" stroke-width="1.2"/>
<text x="1337.6" y="960.4" font-size="40" stroke="#4a5053" stroke-width="0.45" textLength="174" lengthAdjust="spacingAndGlyphs">040327(1)</text>
<circle cx="1052.4" cy="1077.2" r="19.5" fill="#dadada" stroke="#6e6e6e" stroke-width="1.2"/>
<text x="1093.2" y="1091.9" font-size="40" stroke="#4a5053" stroke-width="0.45" textLength="127.2" lengthAdjust="spacingAndGlyphs">040329</text>
<circle cx="711.5" cy="1273.3" r="19.5" fill="#dadada" stroke="#6e6e6e" stroke-width="1.2"/>
<text x="753" y="1287.6" font-size="40" stroke="#4a5053" stroke-width="0.45" textLength="171.8" lengthAdjust="spacingAndGlyphs">040328(1)</text>
<circle cx="393.5" cy="1482.6" r="19.5" fill="#dadada" stroke="#6e6e6e" stroke-width="1.2"/>
<text x="434.8" y="1497" font-size="40" stroke="#4a5053" stroke-width="0.45" textLength="172.6" lengthAdjust="spacingAndGlyphs">040326(1)</text>
</svg>
</body></html>
